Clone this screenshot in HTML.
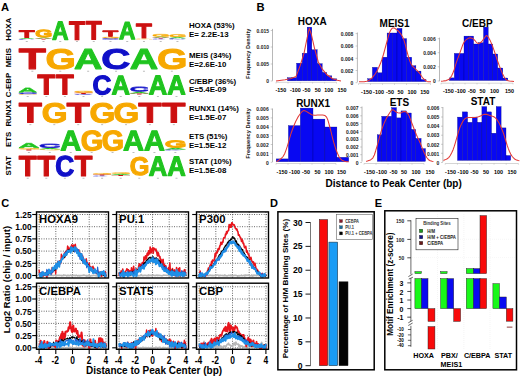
<!DOCTYPE html>
<html><head><meta charset="utf-8"><style>
html,body{margin:0;padding:0;background:#fff;width:520px;height:378px;overflow:hidden}
svg{display:block;font-family:"Liberation Sans", sans-serif}
</style></head><body>
<svg width="520" height="378" viewBox="0 0 520 378">
<defs><path id="gA" d="M1133 0 1008 360H471L346 0H51L565 1409H913L1425 0ZM739 1192 733 1170Q723 1134 709.0 1088.0Q695 1042 537 582H942L803 987L760 1123Z" vector-effect="non-scaling-stroke"/><path id="gC" d="M795 212Q1062 212 1166 480L1423 383Q1340 179 1179.5 79.5Q1019 -20 795 -20Q455 -20 269.5 172.5Q84 365 84 711Q84 1058 263.0 1244.0Q442 1430 782 1430Q1030 1430 1186.0 1330.5Q1342 1231 1405 1038L1145 967Q1112 1073 1015.5 1135.5Q919 1198 788 1198Q588 1198 484.5 1074.0Q381 950 381 711Q381 468 487.5 340.0Q594 212 795 212Z" vector-effect="non-scaling-stroke"/><path id="gG" d="M806 211Q921 211 1029.0 244.5Q1137 278 1196 330V525H852V743H1466V225Q1354 110 1174.5 45.0Q995 -20 798 -20Q454 -20 269.0 170.5Q84 361 84 711Q84 1059 270.0 1244.5Q456 1430 805 1430Q1301 1430 1436 1063L1164 981Q1120 1088 1026.0 1143.0Q932 1198 805 1198Q597 1198 489.0 1072.0Q381 946 381 711Q381 472 492.5 341.5Q604 211 806 211Z" vector-effect="non-scaling-stroke"/><path id="gT" d="M773 1181V0H478V1181H23V1409H1229V1181Z" vector-effect="non-scaling-stroke"/></defs>
<rect width="520" height="378" fill="#fff"/>
<text x="0.9" y="10.6" font-size="11.2" text-anchor="start" font-weight="bold" fill="#000" >A</text>
<text transform="translate(11.3 29.3) rotate(-90)" font-size="7.9" text-anchor="middle" font-weight="bold" fill="#000" >HOXA</text>
<text transform="translate(11.3 57.6) rotate(-90)" font-size="7.9" text-anchor="middle" font-weight="bold" fill="#000" >MEIS</text>
<text transform="translate(11.3 85) rotate(-90)" font-size="7.9" text-anchor="middle" font-weight="bold" fill="#000" >C-EBP</text>
<text transform="translate(11.3 113.2) rotate(-90)" font-size="7.9" text-anchor="middle" font-weight="bold" fill="#000" >RUNX1</text>
<text transform="translate(11.3 139.4) rotate(-90)" font-size="7.9" text-anchor="middle" font-weight="bold" fill="#000" >ETS</text>
<text transform="translate(11.3 165.7) rotate(-90)" font-size="7.9" text-anchor="middle" font-weight="bold" fill="#000" >STAT</text>
<use href="#gT" fill="#cc1010" stroke="#cc1010" stroke-width="1.1" stroke-linejoin="round" transform="matrix(0.01272 0 0 -0.00490 18.81 37.45)"/>
<use href="#gA" fill="#1fc41f" transform="matrix(0.01197 0 0 -0.00071 17.94 39)"/>
<use href="#gC" fill="#1010c8" transform="matrix(0.01228 0 0 -0.00041 17.52 39.59)"/>
<use href="#gG" fill="#f7a800" stroke="#f7a800" stroke-width="1.1" stroke-linejoin="round" transform="matrix(0.01110 0 0 -0.00510 34.91 37.15)"/>
<use href="#gA" fill="#1fc41f" transform="matrix(0.01197 0 0 -0.00071 34.68 38.8)"/>
<use href="#gT" fill="#cc1010" transform="matrix(0.01363 0 0 -0.00050 34.98 39.5)"/>
<use href="#gA" fill="#1fc41f" stroke="#1fc41f" stroke-width="1.1" stroke-linejoin="round" transform="matrix(0.01116 0 0 -0.01278 52.01 39.65)"/>
<use href="#gT" fill="#cc1010" stroke="#cc1010" stroke-width="1.1" stroke-linejoin="round" transform="matrix(0.01272 0 0 -0.01278 69.03 39.65)"/>
<use href="#gT" fill="#cc1010" stroke="#cc1010" stroke-width="1.1" stroke-linejoin="round" transform="matrix(0.01272 0 0 -0.01285 85.77 39.45)"/>
<use href="#gT" fill="#cc1010" stroke="#cc1010" stroke-width="0.99" stroke-linejoin="round" transform="matrix(0.01281 0 0 -0.00398 102.45 36.41)"/>
<use href="#gG" fill="#f7a800" stroke="#f7a800" stroke-width="0.21" stroke-linejoin="round" transform="matrix(0.01174 0 0 -0.00082 101.37 38.18)"/>
<use href="#gC" fill="#1010c8" stroke="#1010c8" stroke-width="0.18" stroke-linejoin="round" transform="matrix(0.01214 0 0 -0.00070 101.32 39.4)"/>
<use href="#gA" fill="#1fc41f" stroke="#1fc41f" stroke-width="1.1" stroke-linejoin="round" transform="matrix(0.01116 0 0 -0.01221 118.97 39.25)"/>
<use href="#gT" fill="#cc1010" stroke="#cc1010" stroke-width="1.1" stroke-linejoin="round" transform="matrix(0.01272 0 0 -0.01008 135.99 38.05)"/>
<use href="#gG" fill="#f7a800" transform="matrix(0.01190 0 0 -0.00055 134.73 39.39)"/>
<use href="#gG" fill="#f7a800" stroke="#f7a800" stroke-width="0.42" stroke-linejoin="round" transform="matrix(0.01159 0 0 -0.00164 151.71 36.56)"/>
<use href="#gA" fill="#1fc41f" transform="matrix(0.01197 0 0 -0.00071 151.86 37.8)"/>
<use href="#gT" fill="#cc1010" transform="matrix(0.01363 0 0 -0.00057 152.16 38.6)"/>
<use href="#gC" fill="#1010c8" transform="matrix(0.01228 0 0 -0.00055 151.44 39.39)"/>
<use href="#gG" fill="#f7a800" stroke="#f7a800" stroke-width="0.45" stroke-linejoin="round" transform="matrix(0.01157 0 0 -0.00176 168.46 36.94)"/>
<use href="#gA" fill="#1fc41f" stroke="#1fc41f" stroke-width="0.18" stroke-linejoin="round" transform="matrix(0.01183 0 0 -0.00072 168.7 38.31)"/>
<use href="#gC" fill="#1010c8" transform="matrix(0.01228 0 0 -0.00069 168.18 39.39)"/>
<use href="#gT" fill="#cc1010" stroke="#cc1010" stroke-width="1.1" stroke-linejoin="round" transform="matrix(0.02197 0 0 -0.01419 18.59 68.85)"/>
<use href="#gG" fill="#f7a800" stroke="#f7a800" stroke-width="1.1" stroke-linejoin="round" transform="matrix(0.01918 0 0 -0.01372 45.39 68.78)"/>
<use href="#gA" fill="#1fc41f" stroke="#1fc41f" stroke-width="1.1" stroke-linejoin="round" transform="matrix(0.01929 0 0 -0.01398 73.92 68.85)"/>
<use href="#gC" fill="#1010c8" stroke="#1010c8" stroke-width="1.1" stroke-linejoin="round" transform="matrix(0.01979 0 0 -0.01379 101.14 68.77)"/>
<use href="#gA" fill="#1fc41f" stroke="#1fc41f" stroke-width="1.1" stroke-linejoin="round" transform="matrix(0.01929 0 0 -0.01398 129.72 68.85)"/>
<use href="#gG" fill="#f7a800" stroke="#f7a800" stroke-width="1.1" stroke-linejoin="round" transform="matrix(0.01918 0 0 -0.01372 156.99 68.78)"/>
<use href="#gA" fill="#1fc41f" stroke="#1fc41f" stroke-width="0.75" stroke-linejoin="round" transform="matrix(0.01277 0 0 -0.00302 18.27 92.22)"/>
<use href="#gC" fill="#1010c8" stroke="#1010c8" stroke-width="0.22" stroke-linejoin="round" transform="matrix(0.01350 0 0 -0.00088 17.53 93.97)"/>
<use href="#gG" fill="#f7a800" transform="matrix(0.01324 0 0 -0.00048 17.44 94.79)"/>
<use href="#gT" fill="#cc1010" stroke="#cc1010" stroke-width="1.1" stroke-linejoin="round" transform="matrix(0.01426 0 0 -0.01391 37.37 94.45)"/>
<use href="#gT" fill="#cc1010" stroke="#cc1010" stroke-width="1.1" stroke-linejoin="round" transform="matrix(0.01426 0 0 -0.01391 55.97 94.45)"/>
<use href="#gG" fill="#f7a800" stroke="#f7a800" stroke-width="0.28" stroke-linejoin="round" transform="matrix(0.01304 0 0 -0.00111 73.4 92.64)"/>
<use href="#gT" fill="#cc1010" stroke="#cc1010" stroke-width="0.18" stroke-linejoin="round" transform="matrix(0.01502 0 0 -0.00072 74.09 93.91)"/>
<use href="#gC" fill="#1010c8" transform="matrix(0.01367 0 0 -0.00069 73.2 94.99)"/>
<use href="#gC" fill="#1010c8" stroke="#1010c8" stroke-width="1.1" stroke-linejoin="round" transform="matrix(0.01285 0 0 -0.01317 92.42 94.39)"/>
<use href="#gA" fill="#1fc41f" stroke="#1fc41f" stroke-width="1.1" stroke-linejoin="round" transform="matrix(0.01252 0 0 -0.01320 111.46 94.45)"/>
<use href="#gC" fill="#1010c8" stroke="#1010c8" stroke-width="0.79" stroke-linejoin="round" transform="matrix(0.01307 0 0 -0.00311 129.45 91.34)"/>
<use href="#gA" fill="#1fc41f" stroke="#1fc41f" stroke-width="0.27" stroke-linejoin="round" transform="matrix(0.01312 0 0 -0.00109 129.62 93.46)"/>
<use href="#gT" fill="#cc1010" transform="matrix(0.01517 0 0 -0.00071 129.8 94.6)"/>
<use href="#gA" fill="#1fc41f" stroke="#1fc41f" stroke-width="1.1" stroke-linejoin="round" transform="matrix(0.01252 0 0 -0.01334 148.66 94.45)"/>
<use href="#gA" fill="#1fc41f" stroke="#1fc41f" stroke-width="1.1" stroke-linejoin="round" transform="matrix(0.01252 0 0 -0.01334 167.26 94.45)"/>
<use href="#gT" fill="#cc1010" stroke="#cc1010" stroke-width="1.1" stroke-linejoin="round" transform="matrix(0.01867 0 0 -0.01391 18.67 122.55)"/>
<use href="#gG" fill="#f7a800" stroke="#f7a800" stroke-width="1.1" stroke-linejoin="round" transform="matrix(0.01629 0 0 -0.01352 41.65 122.48)"/>
<use href="#gT" fill="#cc1010" stroke="#cc1010" stroke-width="1.1" stroke-linejoin="round" transform="matrix(0.01867 0 0 -0.01391 66.5 122.55)"/>
<use href="#gG" fill="#f7a800" stroke="#f7a800" stroke-width="1.1" stroke-linejoin="round" transform="matrix(0.01629 0 0 -0.01352 89.47 122.48)"/>
<use href="#gG" fill="#f7a800" stroke="#f7a800" stroke-width="1.1" stroke-linejoin="round" transform="matrix(0.01629 0 0 -0.01352 113.39 122.48)"/>
<use href="#gT" fill="#cc1010" stroke="#cc1010" stroke-width="1.1" stroke-linejoin="round" transform="matrix(0.01867 0 0 -0.01391 138.24 122.55)"/>
<use href="#gT" fill="#cc1010" stroke="#cc1010" stroke-width="1.1" stroke-linejoin="round" transform="matrix(0.01867 0 0 -0.01391 162.16 122.55)"/>
<use href="#gA" fill="#1fc41f" stroke="#1fc41f" stroke-width="0.79" stroke-linejoin="round" transform="matrix(0.01443 0 0 -0.00320 18.21 147.8)"/>
<use href="#gG" fill="#f7a800" stroke="#f7a800" stroke-width="0.18" stroke-linejoin="round" transform="matrix(0.01479 0 0 -0.00070 17.4 149.3)"/>
<use href="#gT" fill="#cc1010" transform="matrix(0.01710 0 0 -0.00071 18.16 150.4)"/>
<use href="#gC" fill="#1010c8" stroke="#1010c8" stroke-width="0.66" stroke-linejoin="round" transform="matrix(0.01491 0 0 -0.00258 38.55 147.62)"/>
<use href="#gA" fill="#1fc41f" stroke="#1fc41f" stroke-width="0.21" stroke-linejoin="round" transform="matrix(0.01486 0 0 -0.00084 38.82 149.3)"/>
<use href="#gG" fill="#f7a800" transform="matrix(0.01492 0 0 -0.00055 38.22 150.19)"/>
<use href="#gA" fill="#1fc41f" stroke="#1fc41f" stroke-width="1.1" stroke-linejoin="round" transform="matrix(0.01421 0 0 -0.01398 60.23 150.45)"/>
<use href="#gG" fill="#f7a800" stroke="#f7a800" stroke-width="1.1" stroke-linejoin="round" transform="matrix(0.01413 0 0 -0.01386 80.69 150.37)"/>
<use href="#gG" fill="#f7a800" stroke="#f7a800" stroke-width="1.1" stroke-linejoin="round" transform="matrix(0.01413 0 0 -0.01386 101.61 150.37)"/>
<use href="#gA" fill="#1fc41f" stroke="#1fc41f" stroke-width="1.1" stroke-linejoin="round" transform="matrix(0.01421 0 0 -0.01398 123 150.45)"/>
<use href="#gA" fill="#1fc41f" stroke="#1fc41f" stroke-width="1.1" stroke-linejoin="round" transform="matrix(0.01421 0 0 -0.01398 143.93 150.45)"/>
<use href="#gG" fill="#f7a800" stroke="#f7a800" stroke-width="1.1" stroke-linejoin="round" transform="matrix(0.01413 0 0 -0.00476 164.39 147.35)"/>
<use href="#gA" fill="#1fc41f" stroke="#1fc41f" stroke-width="0.24" stroke-linejoin="round" transform="matrix(0.01484 0 0 -0.00097 164.39 149.48)"/>
<use href="#gC" fill="#1010c8" transform="matrix(0.01540 0 0 -0.00055 163.73 150.39)"/>
<use href="#gT" fill="#cc1010" stroke="#cc1010" stroke-width="1.1" stroke-linejoin="round" transform="matrix(0.01426 0 0 -0.01427 18.77 176.05)"/>
<use href="#gT" fill="#cc1010" stroke="#cc1010" stroke-width="1.1" stroke-linejoin="round" transform="matrix(0.01426 0 0 -0.01427 37.37 176.05)"/>
<use href="#gC" fill="#1010c8" stroke="#1010c8" stroke-width="1.1" stroke-linejoin="round" transform="matrix(0.01285 0 0 -0.01414 55.22 175.97)"/>
<use href="#gT" fill="#cc1010" stroke="#cc1010" stroke-width="1.1" stroke-linejoin="round" transform="matrix(0.01426 0 0 -0.01427 74.57 176.05)"/>
<use href="#gG" fill="#f7a800" stroke="#f7a800" stroke-width="0.21" stroke-linejoin="round" transform="matrix(0.01309 0 0 -0.00082 91.96 174.48)"/>
<use href="#gT" fill="#cc1010" transform="matrix(0.01517 0 0 -0.00071 92.6 175.6)"/>
<use href="#gC" fill="#1010c8" transform="matrix(0.01367 0 0 -0.00055 91.8 176.39)"/>
<use href="#gG" fill="#f7a800" stroke="#f7a800" stroke-width="0.21" stroke-linejoin="round" transform="matrix(0.01309 0 0 -0.00082 110.56 173.68)"/>
<use href="#gA" fill="#1fc41f" stroke="#1fc41f" stroke-width="0.18" stroke-linejoin="round" transform="matrix(0.01319 0 0 -0.00072 110.97 174.91)"/>
<use href="#gT" fill="#cc1010" transform="matrix(0.01517 0 0 -0.00071 111.2 176)"/>
<use href="#gG" fill="#f7a800" stroke="#f7a800" stroke-width="1.1" stroke-linejoin="round" transform="matrix(0.01245 0 0 -0.01262 129.65 175)"/>
<use href="#gA" fill="#1fc41f" stroke="#1fc41f" stroke-width="1.1" stroke-linejoin="round" transform="matrix(0.01252 0 0 -0.01356 148.66 175.65)"/>
<use href="#gA" fill="#1fc41f" stroke="#1fc41f" stroke-width="1.1" stroke-linejoin="round" transform="matrix(0.01252 0 0 -0.01356 167.26 175.65)"/>
<rect x="25.77" y="41.2" width="2" height="0.8" fill="#777" opacity="0.6"/>
<rect x="42.51" y="41.2" width="2" height="0.8" fill="#777" opacity="0.6"/>
<rect x="59.25" y="41.2" width="2" height="0.8" fill="#777" opacity="0.6"/>
<rect x="75.99" y="41.2" width="2" height="0.8" fill="#777" opacity="0.6"/>
<rect x="92.73" y="41.2" width="2" height="0.8" fill="#777" opacity="0.6"/>
<rect x="109.47" y="41.2" width="2" height="0.8" fill="#777" opacity="0.6"/>
<rect x="126.21" y="41.2" width="2" height="0.8" fill="#777" opacity="0.6"/>
<rect x="142.95" y="41.2" width="2" height="0.8" fill="#777" opacity="0.6"/>
<rect x="159.69" y="41.2" width="2" height="0.8" fill="#777" opacity="0.6"/>
<rect x="176.43" y="41.2" width="2" height="0.8" fill="#777" opacity="0.6"/>
<rect x="31.35" y="70.8" width="2" height="0.8" fill="#777" opacity="0.6"/>
<rect x="59.25" y="70.8" width="2" height="0.8" fill="#777" opacity="0.6"/>
<rect x="87.15" y="70.8" width="2" height="0.8" fill="#777" opacity="0.6"/>
<rect x="115.05" y="70.8" width="2" height="0.8" fill="#777" opacity="0.6"/>
<rect x="142.95" y="70.8" width="2" height="0.8" fill="#777" opacity="0.6"/>
<rect x="170.85" y="70.8" width="2" height="0.8" fill="#777" opacity="0.6"/>
<rect x="26.7" y="96.2" width="2" height="0.8" fill="#777" opacity="0.6"/>
<rect x="45.3" y="96.2" width="2" height="0.8" fill="#777" opacity="0.6"/>
<rect x="63.9" y="96.2" width="2" height="0.8" fill="#777" opacity="0.6"/>
<rect x="82.5" y="96.2" width="2" height="0.8" fill="#777" opacity="0.6"/>
<rect x="101.1" y="96.2" width="2" height="0.8" fill="#777" opacity="0.6"/>
<rect x="119.7" y="96.2" width="2" height="0.8" fill="#777" opacity="0.6"/>
<rect x="138.3" y="96.2" width="2" height="0.8" fill="#777" opacity="0.6"/>
<rect x="156.9" y="96.2" width="2" height="0.8" fill="#777" opacity="0.6"/>
<rect x="175.5" y="96.2" width="2" height="0.8" fill="#777" opacity="0.6"/>
<rect x="29.36" y="124.3" width="2" height="0.8" fill="#777" opacity="0.6"/>
<rect x="53.27" y="124.3" width="2" height="0.8" fill="#777" opacity="0.6"/>
<rect x="77.19" y="124.3" width="2" height="0.8" fill="#777" opacity="0.6"/>
<rect x="101.1" y="124.3" width="2" height="0.8" fill="#777" opacity="0.6"/>
<rect x="125.01" y="124.3" width="2" height="0.8" fill="#777" opacity="0.6"/>
<rect x="148.93" y="124.3" width="2" height="0.8" fill="#777" opacity="0.6"/>
<rect x="172.84" y="124.3" width="2" height="0.8" fill="#777" opacity="0.6"/>
<rect x="27.86" y="152.2" width="2" height="0.8" fill="#777" opacity="0.6"/>
<rect x="48.79" y="152.2" width="2" height="0.8" fill="#777" opacity="0.6"/>
<rect x="69.71" y="152.2" width="2" height="0.8" fill="#777" opacity="0.6"/>
<rect x="90.64" y="152.2" width="2" height="0.8" fill="#777" opacity="0.6"/>
<rect x="111.56" y="152.2" width="2" height="0.8" fill="#777" opacity="0.6"/>
<rect x="132.49" y="152.2" width="2" height="0.8" fill="#777" opacity="0.6"/>
<rect x="153.41" y="152.2" width="2" height="0.8" fill="#777" opacity="0.6"/>
<rect x="174.34" y="152.2" width="2" height="0.8" fill="#777" opacity="0.6"/>
<rect x="26.7" y="177.8" width="2" height="0.8" fill="#777" opacity="0.6"/>
<rect x="45.3" y="177.8" width="2" height="0.8" fill="#777" opacity="0.6"/>
<rect x="63.9" y="177.8" width="2" height="0.8" fill="#777" opacity="0.6"/>
<rect x="82.5" y="177.8" width="2" height="0.8" fill="#777" opacity="0.6"/>
<rect x="101.1" y="177.8" width="2" height="0.8" fill="#777" opacity="0.6"/>
<rect x="119.7" y="177.8" width="2" height="0.8" fill="#777" opacity="0.6"/>
<rect x="138.3" y="177.8" width="2" height="0.8" fill="#777" opacity="0.6"/>
<rect x="156.9" y="177.8" width="2" height="0.8" fill="#777" opacity="0.6"/>
<rect x="175.5" y="177.8" width="2" height="0.8" fill="#777" opacity="0.6"/>
<text x="188.9" y="28" font-size="7.9" text-anchor="start" font-weight="bold" fill="#000" >HOXA (53%)</text>
<text x="188.9" y="37" font-size="7.9" text-anchor="start" font-weight="bold" fill="#000" >E= 2.2E-13</text>
<text x="188.9" y="57.5" font-size="7.9" text-anchor="start" font-weight="bold" fill="#000" >MEIS (34%)</text>
<text x="188.9" y="66.5" font-size="7.9" text-anchor="start" font-weight="bold" fill="#000" >E=2.6E-10</text>
<text x="188.9" y="84" font-size="7.9" text-anchor="start" font-weight="bold" fill="#000" >C/EBP (36%)</text>
<text x="188.9" y="92.4" font-size="7.9" text-anchor="start" font-weight="bold" fill="#000" >E=5.4E-09</text>
<text x="188.9" y="111.3" font-size="7.9" text-anchor="start" font-weight="bold" fill="#000" >RUNX1 (14%)</text>
<text x="188.9" y="120.4" font-size="7.9" text-anchor="start" font-weight="bold" fill="#000" >E=1.5E-07</text>
<text x="188.9" y="139.3" font-size="7.9" text-anchor="start" font-weight="bold" fill="#000" >ETS (51%)</text>
<text x="188.9" y="148.2" font-size="7.9" text-anchor="start" font-weight="bold" fill="#000" >E=1.5E-12</text>
<text x="188.9" y="163.5" font-size="7.9" text-anchor="start" font-weight="bold" fill="#000" >STAT (10%)</text>
<text x="188.9" y="172.8" font-size="7.9" text-anchor="start" font-weight="bold" fill="#000" >E=1.5E-08</text>
<text x="256.4" y="10.9" font-size="11.2" text-anchor="start" font-weight="bold" fill="#000" >B</text>
<text transform="translate(250.3 53.8) rotate(-90)" font-size="6" text-anchor="middle" font-weight="bold" fill="#111" textLength="50.5" lengthAdjust="spacingAndGlyphs">Frequency Density</text>
<text transform="translate(250.3 133.4) rotate(-90)" font-size="6" text-anchor="middle" font-weight="bold" fill="#111" textLength="50.5" lengthAdjust="spacingAndGlyphs">Frequency Density</text>
<text x="312.2" y="25.1" font-size="10" text-anchor="middle" font-weight="bold" fill="#000" >HOXA</text>
<line x1="272.5" y1="28.9" x2="272.5" y2="80.8" stroke="#888" stroke-width="0.6" />
<line x1="270.7" y1="30.5" x2="272.5" y2="30.5" stroke="#999" stroke-width="0.5" />
<text x="269" y="32.7" font-size="5" text-anchor="end" font-weight="bold" fill="#222" >0.015</text>
<line x1="270.7" y1="47" x2="272.5" y2="47" stroke="#999" stroke-width="0.5" />
<text x="269" y="49.2" font-size="5" text-anchor="end" font-weight="bold" fill="#222" >0.010</text>
<line x1="270.7" y1="64" x2="272.5" y2="64" stroke="#999" stroke-width="0.5" />
<text x="269" y="66.2" font-size="5" text-anchor="end" font-weight="bold" fill="#222" >0.005</text>
<line x1="270.7" y1="81" x2="272.5" y2="81" stroke="#999" stroke-width="0.5" />
<text x="269" y="83.2" font-size="5" text-anchor="end" font-weight="bold" fill="#222" >0</text>
<rect x="287.4" y="77.7" width="4.6" height="3.1" fill="#0808f2" stroke="#00007a" stroke-width="0.3"/>
<rect x="292" y="77.7" width="4.6" height="3.1" fill="#0808f2" stroke="#00007a" stroke-width="0.3"/>
<rect x="296.6" y="63.2" width="5.6" height="17.6" fill="#0808f2" stroke="#00007a" stroke-width="0.3"/>
<rect x="302.2" y="53.2" width="5" height="27.6" fill="#0808f2" stroke="#00007a" stroke-width="0.3"/>
<rect x="307.2" y="27.2" width="4.6" height="53.6" fill="#0808f2" stroke="#00007a" stroke-width="0.3"/>
<rect x="311.8" y="49.7" width="5.4" height="31.1" fill="#0808f2" stroke="#00007a" stroke-width="0.3"/>
<rect x="317.2" y="63.7" width="5" height="17.1" fill="#0808f2" stroke="#00007a" stroke-width="0.3"/>
<rect x="322.2" y="72.4" width="4.6" height="8.4" fill="#0808f2" stroke="#00007a" stroke-width="0.3"/>
<rect x="326.8" y="75.8" width="5" height="5" fill="#0808f2" stroke="#00007a" stroke-width="0.3"/>
<rect x="331.8" y="78.8" width="4.8" height="2" fill="#0808f2" stroke="#00007a" stroke-width="0.3"/>
<polyline points="276,80.9 285,79.8 291,78.6 296.1,76.4 300,66 304,53.4 307.2,37.5 309.3,28.3 311.4,34.5 314.4,47.8 318.3,62 322.3,69.2 327,74.8 332.6,78.8 337.4,80.2 341,80.9" fill="none" stroke="#e23a36" stroke-width="1.05" stroke-linejoin="round" />
<line x1="276" y1="82.3" x2="336.5" y2="82.3" stroke="#aaa" stroke-width="0.5" />
<line x1="276" y1="82.3" x2="276" y2="83.5" stroke="#aaa" stroke-width="0.5" />
<line x1="288" y1="82.3" x2="288" y2="83.5" stroke="#aaa" stroke-width="0.5" />
<line x1="300.3" y1="82.3" x2="300.3" y2="83.5" stroke="#aaa" stroke-width="0.5" />
<line x1="312.6" y1="82.3" x2="312.6" y2="83.5" stroke="#aaa" stroke-width="0.5" />
<line x1="324.6" y1="82.3" x2="324.6" y2="83.5" stroke="#aaa" stroke-width="0.5" />
<line x1="336.5" y1="82.3" x2="336.5" y2="83.5" stroke="#aaa" stroke-width="0.5" />
<text x="280.8" y="92.3" font-size="6" text-anchor="middle" font-weight="bold" fill="#000" textLength="10.81" lengthAdjust="spacingAndGlyphs">-150</text>
<text x="295.4" y="92.3" font-size="6" text-anchor="middle" font-weight="bold" fill="#000" textLength="10.81" lengthAdjust="spacingAndGlyphs">-100</text>
<text x="306.5" y="92.3" font-size="6" text-anchor="middle" font-weight="bold" fill="#000" textLength="7.8" lengthAdjust="spacingAndGlyphs">-50</text>
<text x="317.7" y="92.3" font-size="6" text-anchor="middle" font-weight="bold" fill="#000" textLength="6.01" lengthAdjust="spacingAndGlyphs">50</text>
<text x="328.8" y="92.3" font-size="6" text-anchor="middle" font-weight="bold" fill="#000" textLength="9.01" lengthAdjust="spacingAndGlyphs">100</text>
<text x="342" y="92.3" font-size="6" text-anchor="middle" font-weight="bold" fill="#000" textLength="9.01" lengthAdjust="spacingAndGlyphs">150</text>
<text x="394.6" y="26.7" font-size="10" text-anchor="middle" font-weight="bold" fill="#000" >MEIS1</text>
<line x1="357.4" y1="32.5" x2="357.4" y2="82.2" stroke="#888" stroke-width="0.6" />
<line x1="355.6" y1="33.6" x2="357.4" y2="33.6" stroke="#999" stroke-width="0.5" />
<text x="353.3" y="35.8" font-size="5" text-anchor="end" font-weight="bold" fill="#222" >0.008</text>
<line x1="355.6" y1="46" x2="357.4" y2="46" stroke="#999" stroke-width="0.5" />
<text x="353.3" y="48.2" font-size="5" text-anchor="end" font-weight="bold" fill="#222" >0.006</text>
<line x1="355.6" y1="58.3" x2="357.4" y2="58.3" stroke="#999" stroke-width="0.5" />
<text x="353.3" y="60.5" font-size="5" text-anchor="end" font-weight="bold" fill="#222" >0.004</text>
<line x1="355.6" y1="70.5" x2="357.4" y2="70.5" stroke="#999" stroke-width="0.5" />
<text x="353.3" y="72.7" font-size="5" text-anchor="end" font-weight="bold" fill="#222" >0.002</text>
<line x1="355.6" y1="82.7" x2="357.4" y2="82.7" stroke="#999" stroke-width="0.5" />
<text x="353.3" y="84.9" font-size="5" text-anchor="end" font-weight="bold" fill="#222" >0</text>
<rect x="367.7" y="78.7" width="4.7" height="2.9" fill="#0808f2" stroke="#00007a" stroke-width="0.3"/>
<rect x="372.4" y="67.3" width="5.1" height="14.3" fill="#0808f2" stroke="#00007a" stroke-width="0.3"/>
<rect x="377.5" y="72.8" width="4.6" height="8.8" fill="#0808f2" stroke="#00007a" stroke-width="0.3"/>
<rect x="382.1" y="57.2" width="5" height="24.4" fill="#0808f2" stroke="#00007a" stroke-width="0.3"/>
<rect x="387.1" y="33" width="5.1" height="48.6" fill="#0808f2" stroke="#00007a" stroke-width="0.3"/>
<rect x="392.2" y="33" width="4.8" height="48.6" fill="#0808f2" stroke="#00007a" stroke-width="0.3"/>
<rect x="397" y="28.4" width="5" height="53.2" fill="#0808f2" stroke="#00007a" stroke-width="0.3"/>
<rect x="402" y="38.6" width="4.6" height="43" fill="#0808f2" stroke="#00007a" stroke-width="0.3"/>
<rect x="406.6" y="57.2" width="5.1" height="24.4" fill="#0808f2" stroke="#00007a" stroke-width="0.3"/>
<rect x="411.7" y="65.7" width="4.2" height="15.9" fill="#0808f2" stroke="#00007a" stroke-width="0.3"/>
<rect x="415.9" y="71.1" width="5.1" height="10.5" fill="#0808f2" stroke="#00007a" stroke-width="0.3"/>
<rect x="421" y="79.5" width="5" height="2.1" fill="#0808f2" stroke="#00007a" stroke-width="0.3"/>
<polyline points="359,81.8 361.12,81.78 364.1,81.71 366.8,81.3 368.73,80.48 370.38,79.32 372,77.8 373.68,75.96 375.34,73.76 377,71 378.69,67.56 380.39,63.57 382,59.2 383.52,54.26 384.96,48.94 386.3,44 387.5,39.54 388.61,35.45 389.7,32.2 390.8,29.99 391.89,28.61 393,27.9 394.13,27.93 395.27,28.63 396.5,29.6 397.88,30.72 399.33,32.11 400.7,33.8 401.89,35.66 403,37.8 404.1,40.6 405.24,44.49 406.37,49.03 407.5,53.3 408.57,57.08 409.64,60.58 410.8,63.5 412.13,65.58 413.56,67.08 415,68.5 416.46,69.96 417.93,71.34 419.3,72.8 420.47,74.47 421.54,76.21 422.7,77.8 424.04,79.22 425.48,80.49 426.9,81.4 428.43,81.79 429.94,81.81 431,81.8" fill="none" stroke="#e23a36" stroke-width="1.05" stroke-linejoin="round" />
<line x1="358.5" y1="83.6" x2="430.5" y2="83.6" stroke="#aaa" stroke-width="0.5" />
<line x1="358.5" y1="83.6" x2="358.5" y2="84.8" stroke="#aaa" stroke-width="0.5" />
<line x1="370.5" y1="83.6" x2="370.5" y2="84.8" stroke="#aaa" stroke-width="0.5" />
<line x1="382.5" y1="83.6" x2="382.5" y2="84.8" stroke="#aaa" stroke-width="0.5" />
<line x1="394.5" y1="83.6" x2="394.5" y2="84.8" stroke="#aaa" stroke-width="0.5" />
<line x1="406.5" y1="83.6" x2="406.5" y2="84.8" stroke="#aaa" stroke-width="0.5" />
<line x1="418.5" y1="83.6" x2="418.5" y2="84.8" stroke="#aaa" stroke-width="0.5" />
<line x1="430.5" y1="83.6" x2="430.5" y2="84.8" stroke="#aaa" stroke-width="0.5" />
<text x="366.5" y="93.6" font-size="6" text-anchor="middle" font-weight="bold" fill="#000" textLength="10.81" lengthAdjust="spacingAndGlyphs">-150</text>
<text x="378.5" y="93.6" font-size="6" text-anchor="middle" font-weight="bold" fill="#000" textLength="10.81" lengthAdjust="spacingAndGlyphs">-100</text>
<text x="390" y="93.6" font-size="6" text-anchor="middle" font-weight="bold" fill="#000" textLength="7.8" lengthAdjust="spacingAndGlyphs">-50</text>
<text x="400.5" y="93.6" font-size="6" text-anchor="middle" font-weight="bold" fill="#000" textLength="6.01" lengthAdjust="spacingAndGlyphs">50</text>
<text x="412" y="93.6" font-size="6" text-anchor="middle" font-weight="bold" fill="#000" textLength="9.01" lengthAdjust="spacingAndGlyphs">100</text>
<text x="424.8" y="93.6" font-size="6" text-anchor="middle" font-weight="bold" fill="#000" textLength="9.01" lengthAdjust="spacingAndGlyphs">150</text>
<text x="477.4" y="26.6" font-size="10" text-anchor="middle" font-weight="bold" fill="#000" >C/EBP</text>
<line x1="439.5" y1="37.6" x2="439.5" y2="81.2" stroke="#888" stroke-width="0.6" />
<line x1="437.7" y1="38.7" x2="439.5" y2="38.7" stroke="#999" stroke-width="0.5" />
<text x="435.7" y="40.9" font-size="5" text-anchor="end" font-weight="bold" fill="#222" >0.006</text>
<line x1="437.7" y1="52.7" x2="439.5" y2="52.7" stroke="#999" stroke-width="0.5" />
<text x="435.7" y="54.9" font-size="5" text-anchor="end" font-weight="bold" fill="#222" >0.004</text>
<line x1="437.7" y1="66.8" x2="439.5" y2="66.8" stroke="#999" stroke-width="0.5" />
<text x="435.7" y="69" font-size="5" text-anchor="end" font-weight="bold" fill="#222" >0.002</text>
<line x1="437.7" y1="81" x2="439.5" y2="81" stroke="#999" stroke-width="0.5" />
<text x="435.7" y="83.2" font-size="5" text-anchor="end" font-weight="bold" fill="#222" >0</text>
<rect x="449.2" y="77.9" width="5.1" height="2.6" fill="#0808f2" stroke="#00007a" stroke-width="0.3"/>
<rect x="454.3" y="53.4" width="4.9" height="27.1" fill="#0808f2" stroke="#00007a" stroke-width="0.3"/>
<rect x="459.2" y="53.4" width="4.8" height="27.1" fill="#0808f2" stroke="#00007a" stroke-width="0.3"/>
<rect x="464" y="36.1" width="4.8" height="44.4" fill="#0808f2" stroke="#00007a" stroke-width="0.3"/>
<rect x="468.8" y="36.1" width="4.8" height="44.4" fill="#0808f2" stroke="#00007a" stroke-width="0.3"/>
<rect x="473.6" y="44" width="4.8" height="36.5" fill="#0808f2" stroke="#00007a" stroke-width="0.3"/>
<rect x="478.4" y="42.7" width="5.1" height="37.8" fill="#0808f2" stroke="#00007a" stroke-width="0.3"/>
<rect x="483.5" y="27.1" width="4.7" height="53.4" fill="#0808f2" stroke="#00007a" stroke-width="0.3"/>
<rect x="488.2" y="44" width="4.6" height="36.5" fill="#0808f2" stroke="#00007a" stroke-width="0.3"/>
<rect x="492.8" y="54" width="4.9" height="26.5" fill="#0808f2" stroke="#00007a" stroke-width="0.3"/>
<rect x="497.7" y="68" width="5.1" height="12.5" fill="#0808f2" stroke="#00007a" stroke-width="0.3"/>
<rect x="502.8" y="78" width="5" height="2.5" fill="#0808f2" stroke="#00007a" stroke-width="0.3"/>
<polyline points="441,81.3 443.12,81.05 446.1,80.61 448.7,79.6 450.42,77.83 451.77,75.5 453,72.8 454.17,69.65 455.23,66.13 456.3,62.7 457.39,59.61 458.5,56.6 459.7,53.4 461.04,49.58 462.48,45.56 464,42.3 465.64,40.2 467.36,38.87 469,38.1 470.49,37.87 471.9,38.19 473.3,38.9 474.74,40.27 476.16,42.02 477.5,43.2 478.69,43.41 479.8,43.04 480.9,42.3 482.07,41.08 483.23,39.5 484.3,38.1 485.17,36.86 485.93,35.81 486.8,35.6 487.87,36.58 489.03,38.4 490.2,40.6 491.33,43.11 492.47,46.01 493.6,49.1 494.73,52.41 495.87,55.9 497,59.3 498.13,62.53 499.27,65.66 500.4,68.6 501.53,71.38 502.67,73.97 503.8,76.2 504.81,78 505.81,79.44 507.2,80.5 509.47,81.09 512.11,81.29 514,81.4" fill="none" stroke="#e23a36" stroke-width="1.05" stroke-linejoin="round" />
<line x1="441" y1="83.2" x2="513" y2="83.2" stroke="#aaa" stroke-width="0.5" />
<line x1="441" y1="83.2" x2="441" y2="84.4" stroke="#aaa" stroke-width="0.5" />
<line x1="453" y1="83.2" x2="453" y2="84.4" stroke="#aaa" stroke-width="0.5" />
<line x1="465" y1="83.2" x2="465" y2="84.4" stroke="#aaa" stroke-width="0.5" />
<line x1="477" y1="83.2" x2="477" y2="84.4" stroke="#aaa" stroke-width="0.5" />
<line x1="489" y1="83.2" x2="489" y2="84.4" stroke="#aaa" stroke-width="0.5" />
<line x1="501" y1="83.2" x2="501" y2="84.4" stroke="#aaa" stroke-width="0.5" />
<line x1="513" y1="83.2" x2="513" y2="84.4" stroke="#aaa" stroke-width="0.5" />
<text x="448.3" y="93.2" font-size="6" text-anchor="middle" font-weight="bold" fill="#000" textLength="10.81" lengthAdjust="spacingAndGlyphs">-150</text>
<text x="460.3" y="93.2" font-size="6" text-anchor="middle" font-weight="bold" fill="#000" textLength="10.81" lengthAdjust="spacingAndGlyphs">-100</text>
<text x="471.8" y="93.2" font-size="6" text-anchor="middle" font-weight="bold" fill="#000" textLength="7.8" lengthAdjust="spacingAndGlyphs">-50</text>
<text x="482.5" y="93.2" font-size="6" text-anchor="middle" font-weight="bold" fill="#000" textLength="6.01" lengthAdjust="spacingAndGlyphs">50</text>
<text x="494.5" y="93.2" font-size="6" text-anchor="middle" font-weight="bold" fill="#000" textLength="9.01" lengthAdjust="spacingAndGlyphs">100</text>
<text x="509.5" y="93.2" font-size="6" text-anchor="middle" font-weight="bold" fill="#000" textLength="9.01" lengthAdjust="spacingAndGlyphs">150</text>
<text x="313.1" y="106.9" font-size="10" text-anchor="middle" font-weight="bold" fill="#000" >RUNX1</text>
<line x1="272.5" y1="108.5" x2="272.5" y2="162" stroke="#888" stroke-width="0.6" />
<line x1="270.7" y1="109.1" x2="272.5" y2="109.1" stroke="#999" stroke-width="0.5" />
<text x="268.7" y="111.3" font-size="5" text-anchor="end" font-weight="bold" fill="#222" >0.006</text>
<line x1="270.7" y1="117.9" x2="272.5" y2="117.9" stroke="#999" stroke-width="0.5" />
<text x="268.7" y="120.1" font-size="5" text-anchor="end" font-weight="bold" fill="#222" >0.005</text>
<line x1="270.7" y1="126.8" x2="272.5" y2="126.8" stroke="#999" stroke-width="0.5" />
<text x="268.7" y="129" font-size="5" text-anchor="end" font-weight="bold" fill="#222" >0.004</text>
<line x1="270.7" y1="135.6" x2="272.5" y2="135.6" stroke="#999" stroke-width="0.5" />
<text x="268.7" y="137.8" font-size="5" text-anchor="end" font-weight="bold" fill="#222" >0.003</text>
<line x1="270.7" y1="144.5" x2="272.5" y2="144.5" stroke="#999" stroke-width="0.5" />
<text x="268.7" y="146.7" font-size="5" text-anchor="end" font-weight="bold" fill="#222" >0.002</text>
<line x1="270.7" y1="153.4" x2="272.5" y2="153.4" stroke="#999" stroke-width="0.5" />
<text x="268.7" y="155.6" font-size="5" text-anchor="end" font-weight="bold" fill="#222" >0.001</text>
<line x1="270.7" y1="162.3" x2="272.5" y2="162.3" stroke="#999" stroke-width="0.5" />
<text x="268.7" y="164.5" font-size="5" text-anchor="end" font-weight="bold" fill="#222" >0</text>
<rect x="276.2" y="158.9" width="12.2" height="2.8" fill="#0808f2" stroke="#00007a" stroke-width="0.3"/>
<rect x="288.4" y="125.6" width="11.9" height="36.1" fill="#0808f2" stroke="#00007a" stroke-width="0.3"/>
<rect x="300.3" y="108.1" width="12.7" height="53.6" fill="#0808f2" stroke="#00007a" stroke-width="0.3"/>
<rect x="313" y="119.1" width="11.9" height="42.6" fill="#0808f2" stroke="#00007a" stroke-width="0.3"/>
<rect x="324.9" y="127" width="12" height="34.7" fill="#0808f2" stroke="#00007a" stroke-width="0.3"/>
<rect x="336.9" y="157.3" width="11.8" height="4.4" fill="#0808f2" stroke="#00007a" stroke-width="0.3"/>
<polyline points="276.6,161.7 278.37,160.53 280.87,158.77 283.1,156.5 284.64,153.7 285.92,150.37 287.2,146.6 288.54,142.2 289.87,137.36 291.3,132.7 292.9,128.27 294.6,124.02 296.2,120.4 297.66,117.65 299.02,115.54 300.3,113.8 301.43,112.3 302.47,111.19 303.6,110.6 304.88,110.73 306.24,111.39 307.7,112.2 309.27,113.18 310.94,114.3 312.6,115.1 314.23,115.31 315.86,115.21 317.5,115.1 319.19,115.03 320.9,114.95 322.5,115.1 323.97,115.33 325.33,115.77 326.6,117.1 327.73,119.7 328.76,123.17 329.8,127 330.89,131.22 332,135.8 333.1,140.1 334.17,143.91 335.24,147.44 336.4,150.7 337.68,153.82 339.04,156.68 340.5,158.9 342.13,160.24 343.86,160.94 345.4,161.4 346.74,161.67 347.9,161.7 348.7,161.7" fill="none" stroke="#e23a36" stroke-width="1.05" stroke-linejoin="round" />
<line x1="276" y1="163.5" x2="336" y2="163.5" stroke="#aaa" stroke-width="0.5" />
<line x1="276" y1="163.5" x2="276" y2="164.7" stroke="#aaa" stroke-width="0.5" />
<line x1="288" y1="163.5" x2="288" y2="164.7" stroke="#aaa" stroke-width="0.5" />
<line x1="300" y1="163.5" x2="300" y2="164.7" stroke="#aaa" stroke-width="0.5" />
<line x1="312" y1="163.5" x2="312" y2="164.7" stroke="#aaa" stroke-width="0.5" />
<line x1="324" y1="163.5" x2="324" y2="164.7" stroke="#aaa" stroke-width="0.5" />
<line x1="336" y1="163.5" x2="336" y2="164.7" stroke="#aaa" stroke-width="0.5" />
<text x="282" y="173.5" font-size="6" text-anchor="middle" font-weight="bold" fill="#000" textLength="10.81" lengthAdjust="spacingAndGlyphs">-150</text>
<text x="294.5" y="173.5" font-size="6" text-anchor="middle" font-weight="bold" fill="#000" textLength="10.81" lengthAdjust="spacingAndGlyphs">-100</text>
<text x="306" y="173.5" font-size="6" text-anchor="middle" font-weight="bold" fill="#000" textLength="7.8" lengthAdjust="spacingAndGlyphs">-50</text>
<text x="317.5" y="173.5" font-size="6" text-anchor="middle" font-weight="bold" fill="#000" textLength="6.01" lengthAdjust="spacingAndGlyphs">50</text>
<text x="329" y="173.5" font-size="6" text-anchor="middle" font-weight="bold" fill="#000" textLength="9.01" lengthAdjust="spacingAndGlyphs">100</text>
<text x="341.5" y="173.5" font-size="6" text-anchor="middle" font-weight="bold" fill="#000" textLength="9.01" lengthAdjust="spacingAndGlyphs">150</text>
<text x="399.4" y="106.2" font-size="10" text-anchor="middle" font-weight="bold" fill="#000" >ETS</text>
<line x1="362" y1="106.5" x2="362" y2="161.6" stroke="#888" stroke-width="0.6" />
<line x1="360.2" y1="107.6" x2="362" y2="107.6" stroke="#999" stroke-width="0.5" />
<text x="358.5" y="109.8" font-size="5" text-anchor="end" font-weight="bold" fill="#222" >0.007</text>
<line x1="360.2" y1="115.8" x2="362" y2="115.8" stroke="#999" stroke-width="0.5" />
<text x="358.5" y="118" font-size="5" text-anchor="end" font-weight="bold" fill="#222" >0.006</text>
<line x1="360.2" y1="123.6" x2="362" y2="123.6" stroke="#999" stroke-width="0.5" />
<text x="358.5" y="125.8" font-size="5" text-anchor="end" font-weight="bold" fill="#222" >0.005</text>
<line x1="360.2" y1="131.4" x2="362" y2="131.4" stroke="#999" stroke-width="0.5" />
<text x="358.5" y="133.6" font-size="5" text-anchor="end" font-weight="bold" fill="#222" >0.004</text>
<line x1="360.2" y1="139.2" x2="362" y2="139.2" stroke="#999" stroke-width="0.5" />
<text x="358.5" y="141.4" font-size="5" text-anchor="end" font-weight="bold" fill="#222" >0.003</text>
<line x1="360.2" y1="147" x2="362" y2="147" stroke="#999" stroke-width="0.5" />
<text x="358.5" y="149.2" font-size="5" text-anchor="end" font-weight="bold" fill="#222" >0.002</text>
<line x1="360.2" y1="154.7" x2="362" y2="154.7" stroke="#999" stroke-width="0.5" />
<text x="358.5" y="156.9" font-size="5" text-anchor="end" font-weight="bold" fill="#222" >0.001</text>
<line x1="360.2" y1="162.5" x2="362" y2="162.5" stroke="#999" stroke-width="0.5" />
<text x="358.5" y="164.7" font-size="5" text-anchor="end" font-weight="bold" fill="#222" >0</text>
<rect x="377.3" y="134.8" width="4.5" height="26.6" fill="#0808f2" stroke="#00007a" stroke-width="0.3"/>
<rect x="381.8" y="116.3" width="4.9" height="45.1" fill="#0808f2" stroke="#00007a" stroke-width="0.3"/>
<rect x="386.7" y="116.3" width="4.9" height="45.1" fill="#0808f2" stroke="#00007a" stroke-width="0.3"/>
<rect x="391.6" y="107.6" width="4.9" height="53.8" fill="#0808f2" stroke="#00007a" stroke-width="0.3"/>
<rect x="396.5" y="117.9" width="4.5" height="43.5" fill="#0808f2" stroke="#00007a" stroke-width="0.3"/>
<rect x="401" y="110.9" width="5.4" height="50.5" fill="#0808f2" stroke="#00007a" stroke-width="0.3"/>
<rect x="406.4" y="113" width="4.9" height="48.4" fill="#0808f2" stroke="#00007a" stroke-width="0.3"/>
<rect x="411.3" y="129.4" width="4.4" height="32" fill="#0808f2" stroke="#00007a" stroke-width="0.3"/>
<rect x="415.7" y="138.4" width="5.4" height="23" fill="#0808f2" stroke="#00007a" stroke-width="0.3"/>
<rect x="421.1" y="148.6" width="4.4" height="12.8" fill="#0808f2" stroke="#00007a" stroke-width="0.3"/>
<polyline points="366.2,161.4 368,160.85 370.54,159.93 372.8,158.1 374.35,154.99 375.63,150.97 376.9,146.6 378.27,141.79 379.64,136.62 381,131.9 382.34,127.91 383.66,124.37 385,121.2 386.39,118.37 387.79,115.9 389.1,113.8 390.23,111.94 391.27,110.46 392.4,109.7 393.71,110.11 395.1,111.25 396.5,112.2 397.9,112.68 399.29,112.97 400.6,113 401.73,112.5 402.77,111.73 403.9,111.4 405.21,111.63 406.6,112.3 408,113.8 409.37,116.52 410.73,120.07 412.1,123.7 413.47,127.24 414.83,130.86 416.2,134.3 417.57,137.39 418.93,140.29 420.3,143.3 421.67,146.66 423.03,150.12 424.4,153.2 425.74,155.79 427.07,158 428.5,159.7 430.26,160.74 432.1,161.28 433.4,161.6" fill="none" stroke="#e23a36" stroke-width="1.05" stroke-linejoin="round" />
<line x1="364" y1="163.5" x2="424" y2="163.5" stroke="#aaa" stroke-width="0.5" />
<line x1="364" y1="163.5" x2="364" y2="164.7" stroke="#aaa" stroke-width="0.5" />
<line x1="376" y1="163.5" x2="376" y2="164.7" stroke="#aaa" stroke-width="0.5" />
<line x1="388" y1="163.5" x2="388" y2="164.7" stroke="#aaa" stroke-width="0.5" />
<line x1="400" y1="163.5" x2="400" y2="164.7" stroke="#aaa" stroke-width="0.5" />
<line x1="412" y1="163.5" x2="412" y2="164.7" stroke="#aaa" stroke-width="0.5" />
<line x1="424" y1="163.5" x2="424" y2="164.7" stroke="#aaa" stroke-width="0.5" />
<text x="369.5" y="173.5" font-size="6" text-anchor="middle" font-weight="bold" fill="#000" textLength="10.81" lengthAdjust="spacingAndGlyphs">-150</text>
<text x="381.5" y="173.5" font-size="6" text-anchor="middle" font-weight="bold" fill="#000" textLength="10.81" lengthAdjust="spacingAndGlyphs">-100</text>
<text x="393.5" y="173.5" font-size="6" text-anchor="middle" font-weight="bold" fill="#000" textLength="7.8" lengthAdjust="spacingAndGlyphs">-50</text>
<text x="404" y="173.5" font-size="6" text-anchor="middle" font-weight="bold" fill="#000" textLength="6.01" lengthAdjust="spacingAndGlyphs">50</text>
<text x="416" y="173.5" font-size="6" text-anchor="middle" font-weight="bold" fill="#000" textLength="9.01" lengthAdjust="spacingAndGlyphs">100</text>
<text x="430" y="173.5" font-size="6" text-anchor="middle" font-weight="bold" fill="#000" textLength="9.01" lengthAdjust="spacingAndGlyphs">150</text>
<text x="483" y="104.6" font-size="10" text-anchor="middle" font-weight="bold" fill="#000" >STAT</text>
<line x1="442.9" y1="107" x2="442.9" y2="162" stroke="#888" stroke-width="0.6" />
<line x1="441.1" y1="107.6" x2="442.9" y2="107.6" stroke="#999" stroke-width="0.5" />
<text x="439.4" y="109.8" font-size="5" text-anchor="end" font-weight="bold" fill="#222" >0.006</text>
<line x1="441.1" y1="117" x2="442.9" y2="117" stroke="#999" stroke-width="0.5" />
<text x="439.4" y="119.2" font-size="5" text-anchor="end" font-weight="bold" fill="#222" >0.005</text>
<line x1="441.1" y1="126.2" x2="442.9" y2="126.2" stroke="#999" stroke-width="0.5" />
<text x="439.4" y="128.4" font-size="5" text-anchor="end" font-weight="bold" fill="#222" >0.004</text>
<line x1="441.1" y1="135.2" x2="442.9" y2="135.2" stroke="#999" stroke-width="0.5" />
<text x="439.4" y="137.4" font-size="5" text-anchor="end" font-weight="bold" fill="#222" >0.003</text>
<line x1="441.1" y1="144.3" x2="442.9" y2="144.3" stroke="#999" stroke-width="0.5" />
<text x="439.4" y="146.5" font-size="5" text-anchor="end" font-weight="bold" fill="#222" >0.002</text>
<line x1="441.1" y1="153.3" x2="442.9" y2="153.3" stroke="#999" stroke-width="0.5" />
<text x="439.4" y="155.5" font-size="5" text-anchor="end" font-weight="bold" fill="#222" >0.001</text>
<line x1="441.1" y1="162.5" x2="442.9" y2="162.5" stroke="#999" stroke-width="0.5" />
<text x="439.4" y="164.7" font-size="5" text-anchor="end" font-weight="bold" fill="#222" >0</text>
<rect x="457.5" y="117.1" width="4.8" height="43.3" fill="#0808f2" stroke="#00007a" stroke-width="0.3"/>
<rect x="462.3" y="111.9" width="5.3" height="48.5" fill="#0808f2" stroke="#00007a" stroke-width="0.3"/>
<rect x="467.6" y="122.3" width="4.7" height="38.1" fill="#0808f2" stroke="#00007a" stroke-width="0.3"/>
<rect x="472.3" y="117.1" width="4.9" height="43.3" fill="#0808f2" stroke="#00007a" stroke-width="0.3"/>
<rect x="477.2" y="122.3" width="4.7" height="38.1" fill="#0808f2" stroke="#00007a" stroke-width="0.3"/>
<rect x="481.9" y="106.6" width="4.9" height="53.8" fill="#0808f2" stroke="#00007a" stroke-width="0.3"/>
<rect x="486.8" y="111.9" width="4.7" height="48.5" fill="#0808f2" stroke="#00007a" stroke-width="0.3"/>
<rect x="491.5" y="133.2" width="4.7" height="27.2" fill="#0808f2" stroke="#00007a" stroke-width="0.3"/>
<rect x="496.2" y="106.6" width="4.9" height="53.8" fill="#0808f2" stroke="#00007a" stroke-width="0.3"/>
<rect x="501.1" y="127.9" width="4.9" height="32.5" fill="#0808f2" stroke="#00007a" stroke-width="0.3"/>
<rect x="506" y="155.5" width="4.7" height="4.9" fill="#0808f2" stroke="#00007a" stroke-width="0.3"/>
<polyline points="443.5,160.4 444.88,159.86 446.83,159.01 448.7,157.6 450.26,155.47 451.73,152.77 453.1,149.7 454.33,146.19 455.47,142.3 456.6,138.4 457.74,134.47 458.87,130.54 460.1,127 461.47,123.91 462.93,121.21 464.4,119.2 465.83,118.12 467.27,117.71 468.8,117.5 470.47,117.41 472.23,117.5 474,117.5 475.76,117.32 477.54,117.04 479.3,116.6 481.04,115.81 482.77,114.87 484.5,114.3 486.23,114.38 487.96,114.83 489.7,115.4 491.5,115.88 493.3,116.47 495,117.5 496.5,119.08 497.9,121.1 499.3,123.6 500.79,126.71 502.3,130.3 503.7,134 504.93,137.83 506.07,141.76 507.2,145.4 508.34,148.63 509.47,151.56 510.7,154.1 512.07,156.23 513.53,157.98 515,159.3 516.62,160.1 518.26,160.48 519.4,160.7" fill="none" stroke="#e23a36" stroke-width="1.05" stroke-linejoin="round" />
<line x1="445.2" y1="163.5" x2="518.4" y2="163.5" stroke="#aaa" stroke-width="0.5" />
<line x1="445.2" y1="163.5" x2="445.2" y2="164.7" stroke="#aaa" stroke-width="0.5" />
<line x1="457.4" y1="163.5" x2="457.4" y2="164.7" stroke="#aaa" stroke-width="0.5" />
<line x1="469.6" y1="163.5" x2="469.6" y2="164.7" stroke="#aaa" stroke-width="0.5" />
<line x1="481.8" y1="163.5" x2="481.8" y2="164.7" stroke="#aaa" stroke-width="0.5" />
<line x1="494" y1="163.5" x2="494" y2="164.7" stroke="#aaa" stroke-width="0.5" />
<line x1="506.2" y1="163.5" x2="506.2" y2="164.7" stroke="#aaa" stroke-width="0.5" />
<line x1="518.4" y1="163.5" x2="518.4" y2="164.7" stroke="#aaa" stroke-width="0.5" />
<text x="450.5" y="173.5" font-size="6" text-anchor="middle" font-weight="bold" fill="#000" textLength="10.81" lengthAdjust="spacingAndGlyphs">-150</text>
<text x="463" y="173.5" font-size="6" text-anchor="middle" font-weight="bold" fill="#000" textLength="10.81" lengthAdjust="spacingAndGlyphs">-100</text>
<text x="474.5" y="173.5" font-size="6" text-anchor="middle" font-weight="bold" fill="#000" textLength="7.8" lengthAdjust="spacingAndGlyphs">-50</text>
<text x="486" y="173.5" font-size="6" text-anchor="middle" font-weight="bold" fill="#000" textLength="6.01" lengthAdjust="spacingAndGlyphs">50</text>
<text x="498.5" y="173.5" font-size="6" text-anchor="middle" font-weight="bold" fill="#000" textLength="9.01" lengthAdjust="spacingAndGlyphs">100</text>
<text x="512" y="173.5" font-size="6" text-anchor="middle" font-weight="bold" fill="#000" textLength="9.01" lengthAdjust="spacingAndGlyphs">150</text>
<text x="393.7" y="187.3" font-size="10" text-anchor="middle" font-weight="bold" fill="#000" >Distance to Peak Center (bp)</text>
<text x="1.3" y="206.7" font-size="11" text-anchor="start" font-weight="bold" fill="#000" >C</text>
<text transform="translate(9.7 279.6) rotate(-90)" font-size="9.4" text-anchor="middle" font-weight="bold" fill="#000" >Log2 Ratio (chip / input)</text>
<clipPath id="c00"><rect x="36.5" y="211.9" width="72" height="66.1"/></clipPath>
<line x1="36.5" y1="275.5" x2="108.5" y2="275.5" stroke="#222" stroke-width="0.75" stroke-dasharray="0.9 1.5"/>
<line x1="36.5" y1="263.3" x2="108.5" y2="263.3" stroke="#222" stroke-width="0.75" stroke-dasharray="0.9 1.5"/>
<line x1="36.5" y1="251.1" x2="108.5" y2="251.1" stroke="#222" stroke-width="0.75" stroke-dasharray="0.9 1.5"/>
<line x1="36.5" y1="238.9" x2="108.5" y2="238.9" stroke="#222" stroke-width="0.75" stroke-dasharray="0.9 1.5"/>
<line x1="36.5" y1="226.7" x2="108.5" y2="226.7" stroke="#222" stroke-width="0.75" stroke-dasharray="0.9 1.5"/>
<line x1="36.5" y1="214.5" x2="108.5" y2="214.5" stroke="#222" stroke-width="0.75" stroke-dasharray="0.9 1.5"/>
<line x1="39.1" y1="211.9" x2="39.1" y2="278" stroke="#222" stroke-width="0.75" stroke-dasharray="0.9 1.5"/>
<line x1="55.8" y1="211.9" x2="55.8" y2="278" stroke="#222" stroke-width="0.75" stroke-dasharray="0.9 1.5"/>
<line x1="72.5" y1="211.9" x2="72.5" y2="278" stroke="#222" stroke-width="0.75" stroke-dasharray="0.9 1.5"/>
<line x1="89.2" y1="211.9" x2="89.2" y2="278" stroke="#222" stroke-width="0.75" stroke-dasharray="0.9 1.5"/>
<line x1="105.9" y1="211.9" x2="105.9" y2="278" stroke="#222" stroke-width="0.75" stroke-dasharray="0.9 1.5"/>
<g clip-path="url(#c00)">
<polyline points="39.1,275.12 39.71,275.08 40.33,275.48 40.94,275.72 41.55,275.82 42.16,275.49 42.78,275.8 43.39,275.92 44,275.44 44.62,275.46 45.23,275.34 45.84,275.77 46.45,275.5 47.07,275.52 47.68,275.94 48.29,275.34 48.91,275.41 49.52,274.8 50.13,275.44 50.74,275.54 51.36,275.14 51.97,275.44 52.58,275.23 53.2,275.61 53.81,275.44 54.42,275.2 55.03,275.3 55.65,275.46 56.26,275.82 56.87,275.37 57.49,275.48 58.1,275.29 58.71,275.44 59.32,275.18 59.94,275.52 60.55,275.44 61.16,275.3 61.78,275.82 62.39,275.62 63,275.65 63.61,274.92 64.23,275.53 64.84,275.31 65.45,275.32 66.07,275.58 66.68,275.95 67.29,275.22 67.9,275.62 68.52,275.29 69.13,275.88 69.74,275.63 70.36,275.13 70.97,275.08 71.58,275.88 72.19,275.89 72.81,275.51 73.42,275.29 74.03,275.45 74.64,275.41 75.26,275.79 75.87,275.33 76.48,275.17 77.1,275.63 77.71,275.92 78.32,275.72 78.93,275.28 79.55,276.01 80.16,275.53 80.77,275.79 81.39,275.54 82,275.57 82.61,275.5 83.22,275.06 83.84,275.38 84.45,275.11 85.06,275.54 85.68,275.64 86.29,275.39 86.9,276.33 87.51,275.51 88.13,275.45 88.74,275.86 89.35,275.36 89.97,275.66 90.58,276.22 91.19,275.56 91.8,275.79 92.42,275.65 93.03,275.54 93.64,275.13 94.26,275.47 94.87,275.51 95.48,275.39 96.09,276.03 96.71,275.14 97.32,275.82 97.93,275.37 98.55,275.83 99.16,275.79 99.77,275.62 100.38,274.94 101,275.3 101.61,275.68 102.22,275.58 102.84,275.84 103.45,275.51 104.06,275.67 104.67,275.29 105.29,275.9 105.9,275.6" fill="none" stroke="#b8b8b8" stroke-width="1.6" stroke-linejoin="round" />
<polyline points="39.1,269.79 39.62,275.62 40.14,273.52 40.65,273.97 41.17,272.58 41.69,276.9 42.21,274.91 42.72,275.51 43.24,276.06 43.76,275.53 44.28,274.79 44.8,274.25 45.31,275.34 45.83,272.62 46.35,274.37 46.87,279.38 47.39,270.63 47.9,273.53 48.42,274 48.94,271.79 49.46,271.6 49.97,271.66 50.49,273.13 51.01,270.75 51.53,273.77 52.05,267.56 52.56,272.43 53.08,269.91 53.6,268.99 54.12,268.1 54.63,268.46 55.15,266.47 55.67,273.9 56.19,266.63 56.71,266.08 57.22,265.93 57.74,261.37 58.26,265.52 58.78,263.01 59.3,266.04 59.81,260.72 60.33,263.62 60.85,262.68 61.37,254.13 61.88,256.53 62.4,257.07 62.92,255.87 63.44,258.2 63.96,256.61 64.47,252.89 64.99,257.11 65.51,251.63 66.03,254.86 66.54,250.49 67.06,252.27 67.58,245.98 68.1,246.87 68.62,249.39 69.13,251.65 69.65,249.07 70.17,247.29 70.69,248.87 71.21,246.13 71.72,244.6 72.24,246.6 72.76,247.35 73.28,245.01 73.79,247.28 74.31,245.22 74.83,247.8 75.35,244.31 75.87,248.46 76.38,250.47 76.9,248.69 77.42,250.7 77.94,251.93 78.46,250.98 78.97,249.94 79.49,256.45 80.01,253.01 80.53,254.02 81.04,254.82 81.56,253.76 82.08,258.79 82.6,255.73 83.12,258.35 83.63,258.52 84.15,260.02 84.67,261.07 85.19,262.28 85.7,261.23 86.22,258.66 86.74,261.5 87.26,262.64 87.78,263.94 88.29,266.68 88.81,265.19 89.33,262.91 89.85,270.16 90.37,266.54 90.88,266.71 91.4,268.66 91.92,268.13 92.44,267.38 92.95,266.17 93.47,268.35 93.99,268.01 94.51,270.96 95.03,270.28 95.54,271.85 96.06,271.87 96.58,273.6 97.1,271.55 97.61,270.22 98.13,273.57 98.65,272.92 99.17,272.33 99.69,273.64 100.2,271.94 100.72,273.39 101.24,276.29 101.76,276.1 102.28,272.7 102.79,272.95 103.31,272.07 103.83,273.8 104.35,273.93 104.86,277.48 105.38,271.65 105.9,276.25" fill="none" stroke="#e8141c" stroke-width="1.4" stroke-linejoin="round" />
<polyline points="39.1,274.28 39.62,273.13 40.14,275.23 40.65,273.31 41.17,274.5 41.69,274.45 42.21,272.29 42.72,273.94 43.24,274.07 43.76,273.24 44.28,272.77 44.8,273.8 45.31,273.1 45.83,274.5 46.35,273.78 46.87,273.71 47.39,274.42 47.9,274.42 48.42,274.34 48.94,272.77 49.46,272.47 49.97,272.36 50.49,271.71 51.01,272.78 51.53,271.23 52.05,270.57 52.56,269.7 53.08,270.85 53.6,269.99 54.12,271.11 54.63,269.15 55.15,270.29 55.67,268.99 56.19,265.97 56.71,268.6 57.22,265.05 57.74,264.87 58.26,264.82 58.78,263.38 59.3,262.61 59.81,261.38 60.33,261.89 60.85,261.49 61.37,260.75 61.88,260.36 62.4,258.68 62.92,258.64 63.44,256.07 63.96,258.2 64.47,256.71 64.99,255.86 65.51,256.29 66.03,251.73 66.54,255.31 67.06,252.64 67.58,252.33 68.1,249.69 68.62,252.78 69.13,249.39 69.65,250.79 70.17,249.92 70.69,250.18 71.21,248.72 71.72,250.33 72.24,249.23 72.76,248.81 73.28,247.42 73.79,251.69 74.31,248.04 74.83,248.85 75.35,250.55 75.87,250.14 76.38,251.3 76.9,249.7 77.42,251.61 77.94,252.58 78.46,253.18 78.97,253.78 79.49,254.42 80.01,255.79 80.53,253.63 81.04,258.24 81.56,260.64 82.08,257.99 82.6,258.77 83.12,259.03 83.63,260.36 84.15,261.06 84.67,261.34 85.19,261.46 85.7,263.56 86.22,264.2 86.74,262.62 87.26,264.67 87.78,266.79 88.29,264.18 88.81,266.28 89.33,268.18 89.85,269.29 90.37,268.37 90.88,269.96 91.4,270.63 91.92,271.29 92.44,270.92 92.95,269.72 93.47,271.58 93.99,272.89 94.51,271.12 95.03,271.99 95.54,271.48 96.06,271.37 96.58,272.92 97.1,273.09 97.61,273.16 98.13,274.39 98.65,272.77 99.17,272.21 99.69,273.5 100.2,274.01 100.72,274.12 101.24,274.71 101.76,274.81 102.28,274.48 102.79,274.97 103.31,274.63 103.83,275.78 104.35,273.94 104.86,274.27 105.38,275.47 105.9,276.62" fill="none" stroke="#000000" stroke-width="1" stroke-linejoin="round" />
<polyline points="39.1,274.3 39.62,273.55 40.14,275.1 40.65,273.68 41.17,272.66 41.69,273.5 42.21,271.48 42.72,275.6 43.24,273.91 43.76,275.16 44.28,275.21 44.8,274.09 45.31,273.29 45.83,272.84 46.35,272.56 46.87,269.46 47.39,271.65 47.9,275.67 48.42,272.4 48.94,273.6 49.46,273.19 49.97,269.82 50.49,272.16 51.01,274.81 51.53,270.62 52.05,271.3 52.56,272.44 53.08,271.6 53.6,270.67 54.12,269.18 54.63,269.39 55.15,268.03 55.67,264.47 56.19,268.41 56.71,267.83 57.22,266.25 57.74,263.31 58.26,265.73 58.78,261.38 59.3,265.36 59.81,264.16 60.33,261.76 60.85,262.39 61.37,261.21 61.88,258.62 62.4,257.39 62.92,257.68 63.44,257.59 63.96,254.08 64.47,254.96 64.99,255.33 65.51,252.17 66.03,255.13 66.54,252.68 67.06,251.24 67.58,251.83 68.1,252.29 68.62,250.25 69.13,251.36 69.65,251.09 70.17,251.52 70.69,247.3 71.21,250.28 71.72,247.25 72.24,248.51 72.76,249.6 73.28,248.08 73.79,248.88 74.31,249.3 74.83,252.12 75.35,249.95 75.87,248.91 76.38,250.01 76.9,249.61 77.42,249.27 77.94,251.67 78.46,249.59 78.97,256.17 79.49,254.66 80.01,259.25 80.53,254.24 81.04,256.21 81.56,254.23 82.08,258.5 82.6,262.09 83.12,257.21 83.63,262.45 84.15,263.08 84.67,261.96 85.19,261.33 85.7,263.99 86.22,263.51 86.74,267.73 87.26,262.23 87.78,265.94 88.29,266.24 88.81,266.04 89.33,267.32 89.85,267.81 90.37,270.24 90.88,269.34 91.4,268.85 91.92,268.25 92.44,270.63 92.95,270.65 93.47,270.58 93.99,270.5 94.51,271.42 95.03,272.48 95.54,273.18 96.06,270.62 96.58,272.25 97.1,272.91 97.61,267.18 98.13,271.77 98.65,271.97 99.17,273.29 99.69,275.4 100.2,271.83 100.72,274.02 101.24,273.86 101.76,272.27 102.28,272.35 102.79,273.74 103.31,274.17 103.83,270.66 104.35,273.3 104.86,276.07 105.38,273.06 105.9,274.11" fill="none" stroke="#1f63d6" stroke-width="1.2" stroke-linejoin="round" />
<polyline points="39.1,276.1 39.62,276.03 40.14,273.34 40.65,277.65 41.17,274.46 41.69,277.51 42.21,272.54 42.72,273.8 43.24,272.05 43.76,274.7 44.28,273.3 44.8,274.21 45.31,274.77 45.83,273.36 46.35,275.29 46.87,273.82 47.39,272.13 47.9,272.89 48.42,273.39 48.94,269.37 49.46,272.26 49.97,272.96 50.49,271.6 51.01,272.3 51.53,271.78 52.05,271.39 52.56,267.54 53.08,270.08 53.6,269.44 54.12,268.26 54.63,265.82 55.15,268.6 55.67,268.65 56.19,263.56 56.71,268.74 57.22,266.53 57.74,264.39 58.26,261.37 58.78,265.43 59.3,266.9 59.81,261.67 60.33,262.67 60.85,261.74 61.37,259.76 61.88,259.36 62.4,258.51 62.92,258.82 63.44,255.56 63.96,254.52 64.47,255.96 64.99,255.97 65.51,253.56 66.03,253.29 66.54,254.9 67.06,253.47 67.58,250.72 68.1,251.89 68.62,251.78 69.13,250.59 69.65,250.59 70.17,250.25 70.69,252.83 71.21,247.27 71.72,249.41 72.24,250.93 72.76,248.21 73.28,249.25 73.79,249.8 74.31,248.47 74.83,246.94 75.35,249.74 75.87,248.58 76.38,248.14 76.9,253.25 77.42,253.02 77.94,251.66 78.46,255.87 78.97,254.38 79.49,252.74 80.01,253.78 80.53,255.16 81.04,259.5 81.56,254.01 82.08,257.38 82.6,257.81 83.12,258.96 83.63,262.95 84.15,263.28 84.67,263.69 85.19,259.83 85.7,264.56 86.22,264.39 86.74,265.08 87.26,264.53 87.78,265.26 88.29,266.21 88.81,269.03 89.33,272.34 89.85,268.03 90.37,268.38 90.88,267.45 91.4,269.85 91.92,271.01 92.44,269.91 92.95,273.15 93.47,272.74 93.99,273.01 94.51,271.41 95.03,269.04 95.54,271.23 96.06,270.9 96.58,272.44 97.1,272.57 97.61,273.81 98.13,273.72 98.65,277 99.17,275.33 99.69,275.57 100.2,272.56 100.72,272.91 101.24,272.29 101.76,271.76 102.28,274.55 102.79,272.61 103.31,271.34 103.83,274.26 104.35,272.7 104.86,274.56 105.38,276.71 105.9,274.2" fill="none" stroke="#1e8fe6" stroke-width="1.8" stroke-linejoin="round" />
</g>
<rect x="36.5" y="211.9" width="72" height="66.1" fill="none" stroke="#000" stroke-width="1.4"/>
<line x1="32.2" y1="275.5" x2="36.5" y2="275.5" stroke="#000" stroke-width="1.1" />
<text x="31.6" y="278.8" font-size="9.2" text-anchor="end" font-weight="bold" fill="#000" textLength="16.29" lengthAdjust="spacingAndGlyphs">0.00</text>
<line x1="32.2" y1="263.3" x2="36.5" y2="263.3" stroke="#000" stroke-width="1.1" />
<text x="31.6" y="266.6" font-size="9.2" text-anchor="end" font-weight="bold" fill="#000" textLength="16.29" lengthAdjust="spacingAndGlyphs">0.25</text>
<line x1="32.2" y1="251.1" x2="36.5" y2="251.1" stroke="#000" stroke-width="1.1" />
<text x="31.6" y="254.4" font-size="9.2" text-anchor="end" font-weight="bold" fill="#000" textLength="16.29" lengthAdjust="spacingAndGlyphs">0.50</text>
<line x1="32.2" y1="238.9" x2="36.5" y2="238.9" stroke="#000" stroke-width="1.1" />
<text x="31.6" y="242.2" font-size="9.2" text-anchor="end" font-weight="bold" fill="#000" textLength="16.29" lengthAdjust="spacingAndGlyphs">0.75</text>
<line x1="32.2" y1="226.7" x2="36.5" y2="226.7" stroke="#000" stroke-width="1.1" />
<text x="31.6" y="230" font-size="9.2" text-anchor="end" font-weight="bold" fill="#000" textLength="16.29" lengthAdjust="spacingAndGlyphs">1.00</text>
<line x1="32.2" y1="214.5" x2="36.5" y2="214.5" stroke="#000" stroke-width="1.1" />
<text x="31.6" y="217.8" font-size="9.2" text-anchor="end" font-weight="bold" fill="#000" textLength="16.29" lengthAdjust="spacingAndGlyphs">1.25</text>
<text x="39.1" y="223.2" font-size="11.3" text-anchor="start" font-weight="bold" fill="#000" >HOXA9</text>
<clipPath id="c10"><rect x="116.5" y="211.9" width="72" height="66.1"/></clipPath>
<line x1="116.5" y1="275.5" x2="188.5" y2="275.5" stroke="#222" stroke-width="0.75" stroke-dasharray="0.9 1.5"/>
<line x1="116.5" y1="263.3" x2="188.5" y2="263.3" stroke="#222" stroke-width="0.75" stroke-dasharray="0.9 1.5"/>
<line x1="116.5" y1="251.1" x2="188.5" y2="251.1" stroke="#222" stroke-width="0.75" stroke-dasharray="0.9 1.5"/>
<line x1="116.5" y1="238.9" x2="188.5" y2="238.9" stroke="#222" stroke-width="0.75" stroke-dasharray="0.9 1.5"/>
<line x1="116.5" y1="226.7" x2="188.5" y2="226.7" stroke="#222" stroke-width="0.75" stroke-dasharray="0.9 1.5"/>
<line x1="116.5" y1="214.5" x2="188.5" y2="214.5" stroke="#222" stroke-width="0.75" stroke-dasharray="0.9 1.5"/>
<line x1="119.1" y1="211.9" x2="119.1" y2="278" stroke="#222" stroke-width="0.75" stroke-dasharray="0.9 1.5"/>
<line x1="135.8" y1="211.9" x2="135.8" y2="278" stroke="#222" stroke-width="0.75" stroke-dasharray="0.9 1.5"/>
<line x1="152.5" y1="211.9" x2="152.5" y2="278" stroke="#222" stroke-width="0.75" stroke-dasharray="0.9 1.5"/>
<line x1="169.2" y1="211.9" x2="169.2" y2="278" stroke="#222" stroke-width="0.75" stroke-dasharray="0.9 1.5"/>
<line x1="185.9" y1="211.9" x2="185.9" y2="278" stroke="#222" stroke-width="0.75" stroke-dasharray="0.9 1.5"/>
<g clip-path="url(#c10)">
<polyline points="119.1,275.86 119.71,275.39 120.33,275.21 120.94,275.65 121.55,275.89 122.16,275.52 122.78,275.36 123.39,275.18 124,275.86 124.62,275.88 125.23,275.29 125.84,275.36 126.45,275.05 127.07,275.21 127.68,275.53 128.29,275.58 128.91,274.75 129.52,275.58 130.13,275.73 130.74,275.83 131.36,275.47 131.97,275.46 132.58,275.6 133.2,275.52 133.81,275.42 134.42,275.3 135.03,275.18 135.65,275.44 136.26,276.02 136.87,275.29 137.49,275.92 138.1,275.55 138.71,275.93 139.32,275.5 139.94,275.73 140.55,275.44 141.16,274.53 141.78,275.51 142.39,275.25 143,275.89 143.61,275.58 144.23,275.31 144.84,275.53 145.45,275.39 146.07,275.47 146.68,275.79 147.29,275.33 147.9,275.74 148.52,274.95 149.13,275.65 149.74,275.3 150.36,275.5 150.97,275.22 151.58,275.68 152.19,275.21 152.81,275.54 153.42,275.13 154.03,275.32 154.64,275.46 155.26,275.73 155.87,275.28 156.48,275.36 157.1,275.02 157.71,275.61 158.32,275.34 158.93,275.35 159.55,275.42 160.16,275.44 160.77,275.45 161.39,275.68 162,275.8 162.61,275.62 163.22,275.33 163.84,275.06 164.45,275.21 165.06,275.19 165.68,275.27 166.29,275.3 166.9,275.45 167.51,275.27 168.13,274.98 168.74,275.6 169.35,275.7 169.97,274.93 170.58,275.43 171.19,275.22 171.8,275.24 172.42,275.83 173.03,274.79 173.64,274.98 174.26,275.45 174.87,275.28 175.48,275.46 176.09,275.76 176.71,275.53 177.32,275.39 177.93,275.17 178.55,275.29 179.16,275.48 179.77,275.1 180.38,275.72 181,275.27 181.61,275.17 182.22,275.59 182.84,276.02 183.45,275.77 184.06,275.43 184.67,275.35 185.29,275.05 185.9,275.79" fill="none" stroke="#b8b8b8" stroke-width="1.6" stroke-linejoin="round" />
<polyline points="119.1,276.23 119.62,272.54 120.14,273.67 120.65,274.11 121.17,270.93 121.69,272.9 122.21,273.65 122.72,269.08 123.24,274.12 123.76,275.8 124.28,276.04 124.8,274.16 125.31,271.55 125.83,271.11 126.35,270.46 126.87,268.87 127.39,269.12 127.9,271.41 128.42,269.85 128.94,271.27 129.46,273.89 129.97,270.74 130.49,272.34 131.01,272.83 131.53,267.84 132.05,270.42 132.56,273.04 133.08,271.97 133.6,266.42 134.12,271.93 134.63,269.49 135.15,269.46 135.67,269.39 136.19,268.86 136.71,270.85 137.22,270.38 137.74,269.23 138.26,269.16 138.78,266 139.3,263.77 139.81,268.53 140.33,264.65 140.85,267.32 141.37,265.91 141.88,264.1 142.4,262.5 142.92,262.85 143.44,266.8 143.96,257.01 144.47,259.79 144.99,259.7 145.51,255.87 146.03,257.83 146.54,258.81 147.06,253.71 147.58,253.08 148.1,255.11 148.62,250.73 149.13,251.15 149.65,253.96 150.17,247.07 150.69,250 151.21,252.83 151.72,249.1 152.24,249.73 152.76,247.85 153.28,253.12 153.79,247.99 154.31,248.5 154.83,249.42 155.35,250.08 155.87,249.05 156.38,250.99 156.9,252.99 157.42,255.88 157.94,252.33 158.46,253.45 158.97,255.84 159.49,257.05 160.01,256.68 160.53,264.8 161.04,259.4 161.56,266.56 162.08,261.35 162.6,260.39 163.12,259.36 163.63,265.43 164.15,264.19 164.67,266.03 165.19,271.52 165.7,265.59 166.22,267.85 166.74,268.22 167.26,270.99 167.78,269.45 168.29,269.61 168.81,267.34 169.33,269.88 169.85,263.08 170.37,272.05 170.88,271.98 171.4,271.73 171.92,273.61 172.44,268.61 172.95,270.69 173.47,275.09 173.99,272.13 174.51,269.91 175.03,275.71 175.54,272.29 176.06,273.2 176.58,267.53 177.1,271.84 177.61,273.71 178.13,274.08 178.65,268.65 179.17,273.91 179.69,267.81 180.2,276.38 180.72,273.34 181.24,273.46 181.76,274.5 182.28,273.41 182.79,271.4 183.31,274.42 183.83,276.14 184.35,269.95 184.86,269.68 185.38,274.49 185.9,272.27" fill="none" stroke="#e8141c" stroke-width="1.6" stroke-linejoin="round" />
<polyline points="119.1,274.11 119.62,272.7 120.14,274.71 120.65,275.59 121.17,273.77 121.69,273.43 122.21,273.64 122.72,273.51 123.24,274.05 123.76,274.45 124.28,274.58 124.8,274.09 125.31,274.21 125.83,273.04 126.35,273.28 126.87,274.91 127.39,273.15 127.9,273.76 128.42,272.7 128.94,272.31 129.46,273.08 129.97,275.08 130.49,272.85 131.01,274.72 131.53,271.85 132.05,273.7 132.56,273.15 133.08,271.22 133.6,274.22 134.12,272.44 134.63,273.21 135.15,272.48 135.67,272.47 136.19,270.87 136.71,271.43 137.22,270.52 137.74,269.89 138.26,271.58 138.78,268.4 139.3,269.41 139.81,270.18 140.33,268.79 140.85,266.89 141.37,266.23 141.88,267.15 142.4,265.86 142.92,265.13 143.44,263.81 143.96,264.23 144.47,262.61 144.99,263.66 145.51,262.89 146.03,261.06 146.54,260.42 147.06,260.55 147.58,259.45 148.1,259.31 148.62,258.36 149.13,257.6 149.65,257.82 150.17,257.24 150.69,258.08 151.21,258.04 151.72,259.52 152.24,256.98 152.76,257.32 153.28,256.94 153.79,259.22 154.31,258.16 154.83,258.48 155.35,259.9 155.87,257.82 156.38,257.95 156.9,260.63 157.42,259.59 157.94,258.97 158.46,262.15 158.97,260.76 159.49,260.82 160.01,261.19 160.53,264.7 161.04,265.06 161.56,264.54 162.08,264.26 162.6,267.08 163.12,267.21 163.63,268.11 164.15,266.67 164.67,268.7 165.19,268.19 165.7,268.6 166.22,268.59 166.74,269.68 167.26,270.15 167.78,269.78 168.29,270.73 168.81,272.61 169.33,272.24 169.85,271.2 170.37,272.13 170.88,272.78 171.4,272.43 171.92,269.84 172.44,273.02 172.95,272.67 173.47,272.81 173.99,273.57 174.51,272.35 175.03,272.73 175.54,273.21 176.06,274.84 176.58,272.54 177.1,273.03 177.61,273.83 178.13,276.21 178.65,273.86 179.17,274.93 179.69,274.06 180.2,274.33 180.72,274.63 181.24,272.98 181.76,273.79 182.28,272.79 182.79,274.78 183.31,274.09 183.83,272.69 184.35,273.63 184.86,274.58 185.38,274.73 185.9,274.46" fill="none" stroke="#000000" stroke-width="1.3" stroke-linejoin="round" />
<polyline points="119.1,272.25 119.62,272.61 120.14,276.04 120.65,276.86 121.17,274.17 121.69,272.9 122.21,274.23 122.72,276.15 123.24,274.73 123.76,271.9 124.28,276.01 124.8,272.44 125.31,273.2 125.83,273.24 126.35,272.8 126.87,274.7 127.39,274.05 127.9,271.21 128.42,274.37 128.94,274.38 129.46,275.76 129.97,274.34 130.49,272.5 131.01,271.67 131.53,272.46 132.05,272.38 132.56,272.33 133.08,272.56 133.6,271.43 134.12,272.94 134.63,270.98 135.15,272.44 135.67,274.43 136.19,273.72 136.71,271.86 137.22,271.95 137.74,272.72 138.26,271.72 138.78,269.97 139.3,269.25 139.81,268.18 140.33,270.22 140.85,267.95 141.37,266.51 141.88,266.99 142.4,264.42 142.92,267.14 143.44,265.91 143.96,265.1 144.47,265.39 144.99,264.33 145.51,263.38 146.03,263.24 146.54,263.4 147.06,262.83 147.58,261.83 148.1,263.5 148.62,260.62 149.13,262.11 149.65,260.57 150.17,261.52 150.69,259.59 151.21,260.11 151.72,259.83 152.24,260.46 152.76,259.23 153.28,257.16 153.79,262.16 154.31,258.99 154.83,259.62 155.35,260.77 155.87,262.36 156.38,258.63 156.9,261.02 157.42,260.29 157.94,262.72 158.46,263.78 158.97,261.64 159.49,262.66 160.01,264.69 160.53,265.12 161.04,264.47 161.56,267.05 162.08,267.65 162.6,267.04 163.12,266.06 163.63,266.78 164.15,268.23 164.67,267.04 165.19,269.63 165.7,270.54 166.22,266.88 166.74,271.32 167.26,270.1 167.78,270.49 168.29,271.41 168.81,271.53 169.33,271.11 169.85,271.54 170.37,273.37 170.88,272.72 171.4,270.91 171.92,272 172.44,273.79 172.95,273.21 173.47,274.81 173.99,275.33 174.51,274.32 175.03,271.35 175.54,274.58 176.06,276.57 176.58,273.95 177.1,274.81 177.61,272.8 178.13,272.12 178.65,274.39 179.17,273.76 179.69,275.22 180.2,272.24 180.72,275.01 181.24,273.94 181.76,270.59 182.28,275.32 182.79,273.76 183.31,274.07 183.83,273.34 184.35,273.34 184.86,271.89 185.38,273.31 185.9,273.16" fill="none" stroke="#1f63d6" stroke-width="1.2" stroke-linejoin="round" />
<polyline points="119.1,274.3 119.62,274.57 120.14,274.59 120.65,275.37 121.17,274.24 121.69,274.53 122.21,272.9 122.72,276.02 123.24,270.7 123.76,279.23 124.28,274.39 124.8,273.14 125.31,274.76 125.83,275.59 126.35,274.51 126.87,273.35 127.39,272.5 127.9,276.66 128.42,274 128.94,275.25 129.46,272.65 129.97,274.95 130.49,273.9 131.01,272.4 131.53,274.44 132.05,273.53 132.56,274.98 133.08,274.12 133.6,276.49 134.12,274.7 134.63,274 135.15,274.07 135.67,269.54 136.19,276.04 136.71,275.68 137.22,271.65 137.74,270.76 138.26,271.12 138.78,269.24 139.3,267.42 139.81,270.91 140.33,271.8 140.85,269.57 141.37,267.04 141.88,267.71 142.4,268.15 142.92,266.86 143.44,266.37 143.96,268.89 144.47,265.06 144.99,266.47 145.51,265.06 146.03,264.96 146.54,263.56 147.06,261.78 147.58,263.06 148.1,262.09 148.62,260.56 149.13,260.9 149.65,262.31 150.17,259.82 150.69,261.45 151.21,261.08 151.72,260.23 152.24,258.2 152.76,261.81 153.28,261.15 153.79,260.43 154.31,262.12 154.83,260.85 155.35,259.37 155.87,264.31 156.38,261.89 156.9,263.41 157.42,259.63 157.94,262.28 158.46,262.74 158.97,264.34 159.49,266.23 160.01,265.08 160.53,265.18 161.04,266.2 161.56,264.06 162.08,266.13 162.6,269.19 163.12,268.91 163.63,268.37 164.15,271.11 164.67,270.03 165.19,271.11 165.7,270.3 166.22,270.76 166.74,272.27 167.26,269.72 167.78,272.85 168.29,271.23 168.81,274.11 169.33,274.22 169.85,273.93 170.37,273.8 170.88,272.12 171.4,275.8 171.92,271.15 172.44,275.62 172.95,271.65 173.47,273.71 173.99,274.85 174.51,272.9 175.03,274.96 175.54,274.3 176.06,274.24 176.58,270.02 177.1,275.92 177.61,271.55 178.13,274.91 178.65,275.59 179.17,275.27 179.69,272.64 180.2,274.86 180.72,275.75 181.24,273.65 181.76,274.17 182.28,272.98 182.79,276.32 183.31,272.35 183.83,272.76 184.35,275.69 184.86,275.12 185.38,273.91 185.9,274.99" fill="none" stroke="#1e8fe6" stroke-width="1.9" stroke-linejoin="round" />
</g>
<rect x="116.5" y="211.9" width="72" height="66.1" fill="none" stroke="#000" stroke-width="1.4"/>
<line x1="112.2" y1="275.5" x2="116.5" y2="275.5" stroke="#000" stroke-width="1.1" />
<line x1="112.2" y1="263.3" x2="116.5" y2="263.3" stroke="#000" stroke-width="1.1" />
<line x1="112.2" y1="251.1" x2="116.5" y2="251.1" stroke="#000" stroke-width="1.1" />
<line x1="112.2" y1="238.9" x2="116.5" y2="238.9" stroke="#000" stroke-width="1.1" />
<line x1="112.2" y1="226.7" x2="116.5" y2="226.7" stroke="#000" stroke-width="1.1" />
<line x1="112.2" y1="214.5" x2="116.5" y2="214.5" stroke="#000" stroke-width="1.1" />
<text x="119.1" y="223.2" font-size="11.3" text-anchor="start" font-weight="bold" fill="#000" >PU.1</text>
<clipPath id="c20"><rect x="196.5" y="211.9" width="72" height="66.1"/></clipPath>
<line x1="196.5" y1="275.5" x2="268.5" y2="275.5" stroke="#222" stroke-width="0.75" stroke-dasharray="0.9 1.5"/>
<line x1="196.5" y1="263.3" x2="268.5" y2="263.3" stroke="#222" stroke-width="0.75" stroke-dasharray="0.9 1.5"/>
<line x1="196.5" y1="251.1" x2="268.5" y2="251.1" stroke="#222" stroke-width="0.75" stroke-dasharray="0.9 1.5"/>
<line x1="196.5" y1="238.9" x2="268.5" y2="238.9" stroke="#222" stroke-width="0.75" stroke-dasharray="0.9 1.5"/>
<line x1="196.5" y1="226.7" x2="268.5" y2="226.7" stroke="#222" stroke-width="0.75" stroke-dasharray="0.9 1.5"/>
<line x1="196.5" y1="214.5" x2="268.5" y2="214.5" stroke="#222" stroke-width="0.75" stroke-dasharray="0.9 1.5"/>
<line x1="199.1" y1="211.9" x2="199.1" y2="278" stroke="#222" stroke-width="0.75" stroke-dasharray="0.9 1.5"/>
<line x1="215.8" y1="211.9" x2="215.8" y2="278" stroke="#222" stroke-width="0.75" stroke-dasharray="0.9 1.5"/>
<line x1="232.5" y1="211.9" x2="232.5" y2="278" stroke="#222" stroke-width="0.75" stroke-dasharray="0.9 1.5"/>
<line x1="249.2" y1="211.9" x2="249.2" y2="278" stroke="#222" stroke-width="0.75" stroke-dasharray="0.9 1.5"/>
<line x1="265.9" y1="211.9" x2="265.9" y2="278" stroke="#222" stroke-width="0.75" stroke-dasharray="0.9 1.5"/>
<g clip-path="url(#c20)">
<polyline points="199.1,275.27 199.71,275.11 200.33,275.72 200.94,275.75 201.55,275.39 202.16,274.99 202.78,275.38 203.39,275.83 204,275.71 204.62,275.51 205.23,275.22 205.84,275.49 206.45,275.6 207.07,275.56 207.68,275.44 208.29,275.7 208.91,275.49 209.52,275.41 210.13,275.02 210.74,275.51 211.36,275.21 211.97,275.79 212.58,275.24 213.2,275.44 213.81,275.65 214.42,275.5 215.03,275.23 215.65,275.58 216.26,275.2 216.87,275.05 217.49,275.02 218.1,275.03 218.71,275.86 219.32,275.39 219.94,275.69 220.55,275.22 221.16,275.47 221.78,275.43 222.39,275.36 223,275.66 223.61,275.46 224.23,275.7 224.84,274.89 225.45,275.62 226.07,275.49 226.68,276 227.29,275.91 227.9,275.73 228.52,275.26 229.13,275.27 229.74,275.41 230.36,275.67 230.97,274.96 231.58,275.78 232.19,275.74 232.81,275.35 233.42,275.78 234.03,275.41 234.64,275.21 235.26,275.51 235.87,275.37 236.48,275.48 237.1,275.68 237.71,276.4 238.32,275.84 238.93,275.49 239.55,275.96 240.16,275.65 240.77,275.43 241.39,275.1 242,275.88 242.61,275.64 243.22,275.42 243.84,275.34 244.45,275.89 245.06,274.95 245.68,275.73 246.29,275.18 246.9,275.55 247.51,275.37 248.13,275.01 248.74,275.28 249.35,275.45 249.97,275.78 250.58,275.68 251.19,275.9 251.8,274.91 252.42,275.94 253.03,276.23 253.64,275.01 254.26,275.12 254.87,275.59 255.48,275.25 256.09,275.73 256.71,275.66 257.32,275.34 257.93,275.38 258.55,275.62 259.16,275.02 259.77,275.28 260.38,275.45 261,275.83 261.61,275.45 262.22,275.58 262.84,275.51 263.45,275.26 264.06,275.66 264.67,275.41 265.29,275.26 265.9,275.39" fill="none" stroke="#b8b8b8" stroke-width="1.6" stroke-linejoin="round" />
<polyline points="199.1,274.85 199.62,275.67 200.14,271.12 200.65,274.85 201.17,275.25 201.69,274.93 202.21,276.15 202.72,276.41 203.24,274.82 203.76,276.07 204.28,274.42 204.8,275.13 205.31,276.44 205.83,275.09 206.35,273.71 206.87,274.34 207.39,271.05 207.9,270.46 208.42,268.01 208.94,269.41 209.46,267.68 209.97,265.73 210.49,264.57 211.01,265.88 211.53,261.66 212.05,263.43 212.56,260.12 213.08,261.04 213.6,260.2 214.12,260.25 214.63,257.81 215.15,253.57 215.67,256.41 216.19,252.6 216.71,251.82 217.22,252.97 217.74,250 218.26,248.59 218.78,249.7 219.3,248.92 219.81,245.75 220.33,245.65 220.85,242.31 221.37,243.39 221.88,244.34 222.4,241.85 222.92,242.22 223.44,238.65 223.96,237.63 224.47,237.98 224.99,237.5 225.51,234.14 226.03,234.7 226.54,231.59 227.06,233.36 227.58,231.41 228.1,230.74 228.62,230.37 229.13,224.6 229.65,225.02 230.17,227.14 230.69,224.57 231.21,227.28 231.72,222.92 232.24,222.89 232.76,224.72 233.28,224.97 233.79,224.65 234.31,225 234.83,226.8 235.35,228.26 235.87,228.42 236.38,229.59 236.9,229.03 237.42,230.94 237.94,231.79 238.46,235.28 238.97,234.7 239.49,235.79 240.01,237.02 240.53,237.59 241.04,238.91 241.56,241.56 242.08,239.49 242.6,240.6 243.12,243.52 243.63,243.13 244.15,246.21 244.67,247.7 245.19,247.42 245.7,246.24 246.22,249.42 246.74,252.31 247.26,251.09 247.78,253.19 248.29,254.42 248.81,254.08 249.33,257.8 249.85,258.89 250.37,259.48 250.88,257.23 251.4,259.5 251.92,261.4 252.44,262.49 252.95,261.75 253.47,261.96 253.99,265.45 254.51,265.13 255.03,263.38 255.54,266.56 256.06,268.67 256.58,268.71 257.1,269.89 257.61,270.04 258.13,271.28 258.65,273.19 259.17,273.5 259.69,273.62 260.2,275.68 260.72,275.3 261.24,276.61 261.76,273.85 262.28,273.44 262.79,276.55 263.31,274.35 263.83,275.22 264.35,275.32 264.86,275.76 265.38,275.09 265.9,274.15" fill="none" stroke="#e8141c" stroke-width="1.6" stroke-linejoin="round" />
<polyline points="199.1,274.23 199.62,276.15 200.14,275.31 200.65,275.65 201.17,276.01 201.69,275.84 202.21,275.8 202.72,275.56 203.24,275.27 203.76,274.91 204.28,275.35 204.8,274.4 205.31,274.27 205.83,273.93 206.35,273.54 206.87,273.38 207.39,273.12 207.9,271.61 208.42,271.01 208.94,270.07 209.46,269.39 209.97,269.64 210.49,268.63 211.01,268.17 211.53,266.23 212.05,266.17 212.56,265.31 213.08,265.18 213.6,264.66 214.12,263.53 214.63,262.5 215.15,261.43 215.67,261.82 216.19,259.99 216.71,259.92 217.22,258.96 217.74,258.08 218.26,257.36 218.78,256.07 219.3,255.05 219.81,254.57 220.33,254.3 220.85,252.95 221.37,252.19 221.88,251.12 222.4,250.66 222.92,250.96 223.44,249.67 223.96,248.67 224.47,247.11 224.99,246.92 225.51,245.53 226.03,245.1 226.54,245.18 227.06,243.69 227.58,242.63 228.1,241.97 228.62,242.33 229.13,240.53 229.65,240.45 230.17,240.71 230.69,239.27 231.21,239.63 231.72,238.9 232.24,237.16 232.76,236.57 233.28,237.55 233.79,238.24 234.31,237.85 234.83,239.29 235.35,240.67 235.87,242.19 236.38,240.95 236.9,243.51 237.42,244.61 237.94,244.09 238.46,244.45 238.97,245.77 239.49,245.45 240.01,246.9 240.53,247.52 241.04,248.17 241.56,249.57 242.08,249.9 242.6,249.47 243.12,252.15 243.63,252.31 244.15,252.89 244.67,254.29 245.19,254.79 245.7,256.55 246.22,256.58 246.74,257.08 247.26,257.23 247.78,258.1 248.29,259.75 248.81,260.83 249.33,259.87 249.85,261.17 250.37,263.55 250.88,263.38 251.4,264.45 251.92,265.01 252.44,266.38 252.95,266.34 253.47,267.11 253.99,267.65 254.51,267.61 255.03,268.77 255.54,270.29 256.06,271.27 256.58,271.22 257.1,270.89 257.61,271.64 258.13,273.16 258.65,272.73 259.17,273.74 259.69,274.9 260.2,274.8 260.72,275.54 261.24,276.18 261.76,275.78 262.28,275.43 262.79,274.75 263.31,276.13 263.83,275.38 264.35,275.51 264.86,275.55 265.38,276.24 265.9,274.78" fill="none" stroke="#000000" stroke-width="1.3" stroke-linejoin="round" />
<polyline points="199.1,275.94 199.62,277.32 200.14,274.07 200.65,272.32 201.17,275 201.69,274.13 202.21,274.12 202.72,274.6 203.24,274.61 203.76,274.26 204.28,275.74 204.8,276.71 205.31,276.43 205.83,273.4 206.35,273.1 206.87,273.07 207.39,274.91 207.9,272.15 208.42,271.37 208.94,271.76 209.46,270.9 209.97,267.2 210.49,267.43 211.01,267.37 211.53,267.26 212.05,267.4 212.56,266.66 213.08,264.87 213.6,265.84 214.12,264.52 214.63,261.85 215.15,264.29 215.67,263.07 216.19,259.65 216.71,260.45 217.22,259.96 217.74,260.34 218.26,260.25 218.78,256.76 219.3,260.08 219.81,256.13 220.33,256.5 220.85,255.29 221.37,256.68 221.88,252.8 222.4,252.39 222.92,252 223.44,251.13 223.96,252.3 224.47,249.95 224.99,248.9 225.51,248.78 226.03,251.34 226.54,247.39 227.06,246.45 227.58,247.07 228.1,245.13 228.62,243.16 229.13,243.99 229.65,241.89 230.17,243.3 230.69,243.01 231.21,241.54 231.72,242.47 232.24,243.17 232.76,241 233.28,241.52 233.79,241.19 234.31,243.16 234.83,243.2 235.35,242.77 235.87,244.42 236.38,244.76 236.9,244.95 237.42,246.68 237.94,246.31 238.46,248.84 238.97,247.46 239.49,245.84 240.01,248.73 240.53,250.56 241.04,252.59 241.56,252.82 242.08,252.61 242.6,253.85 243.12,253.22 243.63,254.32 244.15,254.37 244.67,256.14 245.19,255.77 245.7,255.87 246.22,259 246.74,258.86 247.26,259.59 247.78,260.25 248.29,259.63 248.81,261.9 249.33,263.18 249.85,264.34 250.37,265.16 250.88,264.38 251.4,263.99 251.92,265.55 252.44,267.12 252.95,267.1 253.47,268.54 253.99,267.13 254.51,268.72 255.03,267.92 255.54,269.38 256.06,270.03 256.58,272.29 257.1,271.35 257.61,272.87 258.13,273.6 258.65,273.37 259.17,272.37 259.69,274.06 260.2,272.92 260.72,274.74 261.24,276.92 261.76,276.03 262.28,273.47 262.79,274.85 263.31,275.38 263.83,275.94 264.35,275.28 264.86,275.01 265.38,275.9 265.9,275.51" fill="none" stroke="#1f63d6" stroke-width="1.2" stroke-linejoin="round" />
<polyline points="199.1,277.1 199.62,273.94 200.14,275.12 200.65,276.06 201.17,274.54 201.69,276.5 202.21,273.17 202.72,274.86 203.24,275.53 203.76,274.67 204.28,276.63 204.8,274.49 205.31,273.58 205.83,273.1 206.35,273.05 206.87,274.12 207.39,272.18 207.9,273.31 208.42,271.14 208.94,271.39 209.46,270.94 209.97,268.79 210.49,266.95 211.01,266.83 211.53,268.09 212.05,267.5 212.56,267.41 213.08,266.39 213.6,265.03 214.12,264.06 214.63,264.3 215.15,263.18 215.67,263.69 216.19,262.39 216.71,259.88 217.22,259.16 217.74,259.33 218.26,259.07 218.78,258.26 219.3,258.48 219.81,258.27 220.33,255.89 220.85,256.81 221.37,254.62 221.88,255.49 222.4,253.7 222.92,251.29 223.44,251.63 223.96,251.62 224.47,250.56 224.99,251.66 225.51,248.49 226.03,249.51 226.54,248.86 227.06,248.08 227.58,246.63 228.1,246.73 228.62,246.03 229.13,244.32 229.65,244.01 230.17,242.42 230.69,242.36 231.21,241.57 231.72,243.59 232.24,242.23 232.76,241.8 233.28,241.59 233.79,243.07 234.31,242.55 234.83,242.56 235.35,245.1 235.87,245.62 236.38,246.21 236.9,245.81 237.42,247.8 237.94,247.36 238.46,248.52 238.97,249.73 239.49,251.21 240.01,247.9 240.53,249.6 241.04,250.51 241.56,253.8 242.08,252.09 242.6,253.99 243.12,255.59 243.63,255.61 244.15,256.22 244.67,254.85 245.19,256.99 245.7,257.88 246.22,258.07 246.74,258.73 247.26,261.12 247.78,259.43 248.29,261.03 248.81,260.93 249.33,260.94 249.85,263.58 250.37,261.64 250.88,264.89 251.4,265.5 251.92,268.03 252.44,265.15 252.95,267.34 253.47,268.34 253.99,268.95 254.51,268.46 255.03,268.56 255.54,269.52 256.06,271.07 256.58,272.06 257.1,273.83 257.61,273.18 258.13,272.64 258.65,274.01 259.17,272.23 259.69,273.66 260.2,275.36 260.72,274.95 261.24,275.27 261.76,276.23 262.28,275.8 262.79,276.97 263.31,275.79 263.83,274.45 264.35,275.93 264.86,273.79 265.38,275.67 265.9,274.74" fill="none" stroke="#1e8fe6" stroke-width="1.8" stroke-linejoin="round" />
</g>
<rect x="196.5" y="211.9" width="72" height="66.1" fill="none" stroke="#000" stroke-width="1.4"/>
<line x1="192.2" y1="275.5" x2="196.5" y2="275.5" stroke="#000" stroke-width="1.1" />
<line x1="192.2" y1="263.3" x2="196.5" y2="263.3" stroke="#000" stroke-width="1.1" />
<line x1="192.2" y1="251.1" x2="196.5" y2="251.1" stroke="#000" stroke-width="1.1" />
<line x1="192.2" y1="238.9" x2="196.5" y2="238.9" stroke="#000" stroke-width="1.1" />
<line x1="192.2" y1="226.7" x2="196.5" y2="226.7" stroke="#000" stroke-width="1.1" />
<line x1="192.2" y1="214.5" x2="196.5" y2="214.5" stroke="#000" stroke-width="1.1" />
<text x="199.1" y="223.2" font-size="11.3" text-anchor="start" font-weight="bold" fill="#000" >P300</text>
<clipPath id="c01"><rect x="36.5" y="283.2" width="72" height="66.1"/></clipPath>
<line x1="36.5" y1="347.8" x2="108.5" y2="347.8" stroke="#222" stroke-width="0.75" stroke-dasharray="0.9 1.5"/>
<line x1="36.5" y1="335.6" x2="108.5" y2="335.6" stroke="#222" stroke-width="0.75" stroke-dasharray="0.9 1.5"/>
<line x1="36.5" y1="323.4" x2="108.5" y2="323.4" stroke="#222" stroke-width="0.75" stroke-dasharray="0.9 1.5"/>
<line x1="36.5" y1="311.2" x2="108.5" y2="311.2" stroke="#222" stroke-width="0.75" stroke-dasharray="0.9 1.5"/>
<line x1="36.5" y1="299" x2="108.5" y2="299" stroke="#222" stroke-width="0.75" stroke-dasharray="0.9 1.5"/>
<line x1="36.5" y1="286.8" x2="108.5" y2="286.8" stroke="#222" stroke-width="0.75" stroke-dasharray="0.9 1.5"/>
<line x1="39.1" y1="283.2" x2="39.1" y2="349.3" stroke="#222" stroke-width="0.75" stroke-dasharray="0.9 1.5"/>
<line x1="55.8" y1="283.2" x2="55.8" y2="349.3" stroke="#222" stroke-width="0.75" stroke-dasharray="0.9 1.5"/>
<line x1="72.5" y1="283.2" x2="72.5" y2="349.3" stroke="#222" stroke-width="0.75" stroke-dasharray="0.9 1.5"/>
<line x1="89.2" y1="283.2" x2="89.2" y2="349.3" stroke="#222" stroke-width="0.75" stroke-dasharray="0.9 1.5"/>
<line x1="105.9" y1="283.2" x2="105.9" y2="349.3" stroke="#222" stroke-width="0.75" stroke-dasharray="0.9 1.5"/>
<g clip-path="url(#c01)">
<polyline points="39.1,347.66 39.71,347.79 40.33,348.15 40.94,347.52 41.55,347.71 42.16,347.69 42.78,347.74 43.39,347.31 44,347.51 44.62,347.42 45.23,347.88 45.84,347.94 46.45,348.11 47.07,347.87 47.68,348.64 48.29,347.29 48.91,347.75 49.52,347.77 50.13,347.52 50.74,347.91 51.36,347.72 51.97,347.55 52.58,348.28 53.2,347.25 53.81,347.75 54.42,347.6 55.03,348.12 55.65,347.99 56.26,347.26 56.87,347.96 57.49,347.92 58.1,347.64 58.71,347.35 59.32,348.55 59.94,347.33 60.55,347.71 61.16,347.51 61.78,348.11 62.39,347.7 63,347.29 63.61,347.82 64.23,347.99 64.84,347.93 65.45,347.96 66.07,347.54 66.68,347.73 67.29,347.95 67.9,347.55 68.52,348.14 69.13,348.24 69.74,347.02 70.36,347.99 70.97,347.28 71.58,347.82 72.19,347.86 72.81,347.63 73.42,348.06 74.03,348.06 74.64,347.86 75.26,347.92 75.87,347.57 76.48,347.18 77.1,348.16 77.71,348.07 78.32,347.56 78.93,347.63 79.55,347.44 80.16,348.03 80.77,347.61 81.39,347.81 82,348.3 82.61,347.65 83.22,348.29 83.84,347.62 84.45,347.94 85.06,347.86 85.68,347.12 86.29,347.31 86.9,347.66 87.51,347.67 88.13,348.04 88.74,347.4 89.35,347.6 89.97,348.06 90.58,348.32 91.19,347.79 91.8,347.85 92.42,347.52 93.03,348.12 93.64,348.07 94.26,347.66 94.87,347.77 95.48,347.5 96.09,347.44 96.71,348.08 97.32,348.54 97.93,347.78 98.55,348.02 99.16,347.72 99.77,348.64 100.38,347.83 101,347.76 101.61,347.97 102.22,347.63 102.84,347.76 103.45,347.72 104.06,347.39 104.67,347.39 105.29,347.42 105.9,347.68" fill="none" stroke="#b8b8b8" stroke-width="1.6" stroke-linejoin="round" />
<polyline points="39.1,344.01 39.62,344.65 40.14,346.9 40.65,340.91 41.17,348.86 41.69,345.28 42.21,343.24 42.72,343.82 43.24,343.89 43.76,347.59 44.28,341.09 44.8,346.91 45.31,345.42 45.83,345.3 46.35,345.32 46.87,346.5 47.39,341.81 47.9,345.15 48.42,343.06 48.94,348.85 49.46,343.95 49.97,345.79 50.49,344.39 51.01,344.81 51.53,344.3 52.05,345.51 52.56,345.12 53.08,344.99 53.6,344.78 54.12,345.17 54.63,346.15 55.15,344.31 55.67,347.21 56.19,340.66 56.71,343.35 57.22,341.33 57.74,343.87 58.26,344.92 58.78,343.63 59.3,340.25 59.81,338.36 60.33,336.78 60.85,336.39 61.37,334.16 61.88,340.86 62.4,331.81 62.92,336.35 63.44,335.09 63.96,338.83 64.47,333.66 64.99,336.86 65.51,331.89 66.03,331.77 66.54,331.4 67.06,331.58 67.58,331.2 68.1,330.7 68.62,327.35 69.13,328.59 69.65,327.63 70.17,322.19 70.69,326.75 71.21,328.41 71.72,330.92 72.24,331.96 72.76,326.83 73.28,325.74 73.79,330.65 74.31,331.52 74.83,329.95 75.35,329.82 75.87,328.64 76.38,331.6 76.9,333.39 77.42,331.03 77.94,335.29 78.46,337.01 78.97,336.87 79.49,335.71 80.01,336.54 80.53,335.88 81.04,336.57 81.56,332.49 82.08,338.28 82.6,345.53 83.12,345.36 83.63,343.13 84.15,346.39 84.67,340.23 85.19,346.14 85.7,345.82 86.22,344.43 86.74,344.89 87.26,342.74 87.78,344.14 88.29,342.51 88.81,344.37 89.33,348.89 89.85,342.13 90.37,339.65 90.88,345.91 91.4,345.42 91.92,342.73 92.44,345.99 92.95,344.78 93.47,345.71 93.99,343.91 94.51,345.62 95.03,340.81 95.54,345.25 96.06,345.94 96.58,348.6 97.1,345.14 97.61,347.46 98.13,343.78 98.65,343.65 99.17,338.24 99.69,344.7 100.2,341.17 100.72,338.19 101.24,345.29 101.76,340.5 102.28,339.28 102.79,344.35 103.31,345.12 103.83,342.51 104.35,344.71 104.86,344.69 105.38,343.43 105.9,347.1" fill="none" stroke="#e8141c" stroke-width="2.1" stroke-linejoin="round" />
<polyline points="39.1,347.1 39.62,346.44 40.14,345.53 40.65,346.57 41.17,347.04 41.69,347.52 42.21,345.32 42.72,346.19 43.24,346.63 43.76,346.95 44.28,348.39 44.8,345.9 45.31,346.89 45.83,346.04 46.35,344.55 46.87,346.33 47.39,346.11 47.9,345.05 48.42,346.17 48.94,345.84 49.46,347.07 49.97,346.73 50.49,347.32 51.01,344.65 51.53,344.24 52.05,345.75 52.56,345.26 53.08,345.33 53.6,342.15 54.12,343.6 54.63,344.5 55.15,343.51 55.67,342.68 56.19,344.76 56.71,342.96 57.22,342.76 57.74,343.12 58.26,342.16 58.78,341.53 59.3,342.45 59.81,342.6 60.33,341.13 60.85,341.63 61.37,341.15 61.88,339.41 62.4,340.71 62.92,340.89 63.44,341.88 63.96,340 64.47,339.76 64.99,339.28 65.51,339.07 66.03,338.68 66.54,338.89 67.06,338.73 67.58,338.07 68.1,339.05 68.62,339.09 69.13,338.88 69.65,337.61 70.17,339.22 70.69,337.8 71.21,337.37 71.72,336.78 72.24,338.02 72.76,336.96 73.28,337.04 73.79,337.7 74.31,337.27 74.83,337.68 75.35,338.78 75.87,338.25 76.38,339.02 76.9,336.56 77.42,338.85 77.94,339.48 78.46,340.51 78.97,339.37 79.49,339.25 80.01,339.81 80.53,341.41 81.04,341.33 81.56,341.63 82.08,340.64 82.6,341.87 83.12,341.38 83.63,339.81 84.15,343.57 84.67,342.25 85.19,342.25 85.7,343.9 86.22,341.66 86.74,343.15 87.26,342.74 87.78,342.76 88.29,342.16 88.81,344.35 89.33,344.53 89.85,345.34 90.37,345.51 90.88,342.74 91.4,345.11 91.92,346.52 92.44,344.34 92.95,343.46 93.47,346.25 93.99,345.5 94.51,346.92 95.03,347.64 95.54,345.96 96.06,346.95 96.58,346.95 97.1,345.79 97.61,345.42 98.13,346.01 98.65,344.57 99.17,346.43 99.69,346.14 100.2,344.95 100.72,343.63 101.24,343.84 101.76,344.88 102.28,345.67 102.79,347.11 103.31,344.38 103.83,345.89 104.35,343.54 104.86,345.75 105.38,347.71 105.9,344.72" fill="none" stroke="#000000" stroke-width="1.2" stroke-linejoin="round" />
<polyline points="39.1,347.27 39.62,345.71 40.14,343.63 40.65,347.97 41.17,344.33 41.69,346.3 42.21,343.9 42.72,345.85 43.24,345.59 43.76,344.75 44.28,346.21 44.8,345.42 45.31,345.66 45.83,343.37 46.35,344.92 46.87,347.67 47.39,344.74 47.9,344.85 48.42,345.1 48.94,343.1 49.46,343.48 49.97,347.02 50.49,342.92 51.01,345.4 51.53,345.31 52.05,345.35 52.56,344.72 53.08,343.32 53.6,346.09 54.12,344.48 54.63,345.24 55.15,344.48 55.67,344.71 56.19,343.12 56.71,342.75 57.22,345.19 57.74,343.33 58.26,345.88 58.78,343.24 59.3,342.27 59.81,343.53 60.33,339.64 60.85,342.27 61.37,343.99 61.88,342.21 62.4,343.64 62.92,341.79 63.44,342.57 63.96,342.22 64.47,345.97 64.99,343.19 65.51,340.86 66.03,340.73 66.54,340.56 67.06,341.19 67.58,339.98 68.1,339.97 68.62,340.47 69.13,339.47 69.65,339.7 70.17,341.58 70.69,340.04 71.21,339.38 71.72,340.95 72.24,343.53 72.76,341.09 73.28,340.31 73.79,344.35 74.31,342.91 74.83,342.58 75.35,338.6 75.87,339.94 76.38,341.65 76.9,339.99 77.42,340.9 77.94,343.7 78.46,342.18 78.97,340.37 79.49,342.25 80.01,338.4 80.53,342.72 81.04,342.73 81.56,342.59 82.08,342.31 82.6,342.53 83.12,340.72 83.63,339.69 84.15,343.15 84.67,345.14 85.19,343.61 85.7,343.01 86.22,340.84 86.74,342.36 87.26,343.33 87.78,339.54 88.29,345.27 88.81,345.44 89.33,341.75 89.85,343.01 90.37,343.99 90.88,345.95 91.4,343.7 91.92,343.92 92.44,345.44 92.95,344.4 93.47,346.8 93.99,343.12 94.51,346.56 95.03,343.51 95.54,346.4 96.06,346.53 96.58,345.48 97.1,346.48 97.61,344.29 98.13,346.72 98.65,345.26 99.17,344.46 99.69,344.19 100.2,344.18 100.72,345.78 101.24,342.61 101.76,345.66 102.28,346.34 102.79,345.06 103.31,342.72 103.83,347.87 104.35,346.17 104.86,343.34 105.38,345.31 105.9,347.4" fill="none" stroke="#1f63d6" stroke-width="1.2" stroke-linejoin="round" />
<polyline points="39.1,347.69 39.62,346.09 40.14,345.41 40.65,348.29 41.17,346.21 41.69,341.66 42.21,347.58 42.72,346.35 43.24,345.26 43.76,348.69 44.28,345.49 44.8,343.85 45.31,345.58 45.83,347.04 46.35,345.09 46.87,346.44 47.39,344.78 47.9,345.01 48.42,345.15 48.94,346.25 49.46,342.64 49.97,344.41 50.49,343.7 51.01,344.33 51.53,345.01 52.05,343.81 52.56,344.23 53.08,343.99 53.6,344.09 54.12,344.89 54.63,344.03 55.15,343.8 55.67,342.7 56.19,345.19 56.71,342.43 57.22,347.63 57.74,345.53 58.26,343.97 58.78,344.84 59.3,343.18 59.81,347.03 60.33,345.96 60.85,346.24 61.37,343.79 61.88,341.57 62.4,345.41 62.92,344.48 63.44,345.17 63.96,342.34 64.47,342.64 64.99,342.46 65.51,344.63 66.03,343.8 66.54,344.31 67.06,344.13 67.58,343.71 68.1,342.55 68.62,345.73 69.13,340.92 69.65,342.79 70.17,340.04 70.69,340.97 71.21,342.6 71.72,342.24 72.24,341.34 72.76,344.18 73.28,341.29 73.79,342.84 74.31,342.55 74.83,343.78 75.35,343.02 75.87,344.29 76.38,344.49 76.9,342.63 77.42,341.82 77.94,342.76 78.46,345.29 78.97,343.61 79.49,344.23 80.01,343.63 80.53,344.41 81.04,344.25 81.56,343.01 82.08,343.99 82.6,343.54 83.12,344.3 83.63,344.99 84.15,344.31 84.67,345.99 85.19,343.31 85.7,343.88 86.22,344.08 86.74,342.43 87.26,345.47 87.78,342.3 88.29,342.79 88.81,343.68 89.33,345.56 89.85,343.66 90.37,344.94 90.88,345.44 91.4,344.13 91.92,343.92 92.44,345.64 92.95,344.55 93.47,339.21 93.99,346.06 94.51,343.86 95.03,345.04 95.54,345.69 96.06,344.04 96.58,346.99 97.1,347.57 97.61,344.89 98.13,344.57 98.65,345.56 99.17,343.41 99.69,345.62 100.2,344.8 100.72,347.43 101.24,342.9 101.76,345.94 102.28,345.32 102.79,344.54 103.31,346.27 103.83,344.69 104.35,345.12 104.86,343.54 105.38,346.83 105.9,345.38" fill="none" stroke="#1e8fe6" stroke-width="1.9" stroke-linejoin="round" />
</g>
<rect x="36.5" y="283.2" width="72" height="66.1" fill="none" stroke="#000" stroke-width="1.4"/>
<line x1="32.2" y1="347.8" x2="36.5" y2="347.8" stroke="#000" stroke-width="1.1" />
<text x="31.6" y="351.1" font-size="9.2" text-anchor="end" font-weight="bold" fill="#000" textLength="16.29" lengthAdjust="spacingAndGlyphs">0.00</text>
<line x1="32.2" y1="335.6" x2="36.5" y2="335.6" stroke="#000" stroke-width="1.1" />
<text x="31.6" y="338.9" font-size="9.2" text-anchor="end" font-weight="bold" fill="#000" textLength="16.29" lengthAdjust="spacingAndGlyphs">0.25</text>
<line x1="32.2" y1="323.4" x2="36.5" y2="323.4" stroke="#000" stroke-width="1.1" />
<text x="31.6" y="326.7" font-size="9.2" text-anchor="end" font-weight="bold" fill="#000" textLength="16.29" lengthAdjust="spacingAndGlyphs">0.50</text>
<line x1="32.2" y1="311.2" x2="36.5" y2="311.2" stroke="#000" stroke-width="1.1" />
<text x="31.6" y="314.5" font-size="9.2" text-anchor="end" font-weight="bold" fill="#000" textLength="16.29" lengthAdjust="spacingAndGlyphs">0.75</text>
<line x1="32.2" y1="299" x2="36.5" y2="299" stroke="#000" stroke-width="1.1" />
<text x="31.6" y="302.3" font-size="9.2" text-anchor="end" font-weight="bold" fill="#000" textLength="16.29" lengthAdjust="spacingAndGlyphs">1.00</text>
<line x1="32.2" y1="286.8" x2="36.5" y2="286.8" stroke="#000" stroke-width="1.1" />
<text x="31.6" y="290.1" font-size="9.2" text-anchor="end" font-weight="bold" fill="#000" textLength="16.29" lengthAdjust="spacingAndGlyphs">1.25</text>
<line x1="39.1" y1="349.3" x2="39.1" y2="354.1" stroke="#000" stroke-width="1.1" />
<text x="38.5" y="363.8" font-size="10.3" text-anchor="middle" font-weight="bold" fill="#000" textLength="7.51" lengthAdjust="spacingAndGlyphs">-4</text>
<line x1="55.8" y1="349.3" x2="55.8" y2="354.1" stroke="#000" stroke-width="1.1" />
<text x="55.2" y="363.8" font-size="10.3" text-anchor="middle" font-weight="bold" fill="#000" textLength="7.51" lengthAdjust="spacingAndGlyphs">-2</text>
<line x1="72.5" y1="349.3" x2="72.5" y2="354.1" stroke="#000" stroke-width="1.1" />
<text x="72.5" y="363.8" font-size="10.3" text-anchor="middle" font-weight="bold" fill="#000" textLength="4.7" lengthAdjust="spacingAndGlyphs">0</text>
<line x1="89.2" y1="349.3" x2="89.2" y2="354.1" stroke="#000" stroke-width="1.1" />
<text x="89.2" y="363.8" font-size="10.3" text-anchor="middle" font-weight="bold" fill="#000" textLength="4.7" lengthAdjust="spacingAndGlyphs">2</text>
<line x1="105.9" y1="349.3" x2="105.9" y2="354.1" stroke="#000" stroke-width="1.1" />
<text x="105.9" y="363.8" font-size="10.3" text-anchor="middle" font-weight="bold" fill="#000" textLength="4.7" lengthAdjust="spacingAndGlyphs">4</text>
<text x="39.1" y="294.5" font-size="11.3" text-anchor="start" font-weight="bold" fill="#000" >C/EBPA</text>
<clipPath id="c11"><rect x="116.5" y="283.2" width="72" height="66.1"/></clipPath>
<line x1="116.5" y1="347.8" x2="188.5" y2="347.8" stroke="#222" stroke-width="0.75" stroke-dasharray="0.9 1.5"/>
<line x1="116.5" y1="335.6" x2="188.5" y2="335.6" stroke="#222" stroke-width="0.75" stroke-dasharray="0.9 1.5"/>
<line x1="116.5" y1="323.4" x2="188.5" y2="323.4" stroke="#222" stroke-width="0.75" stroke-dasharray="0.9 1.5"/>
<line x1="116.5" y1="311.2" x2="188.5" y2="311.2" stroke="#222" stroke-width="0.75" stroke-dasharray="0.9 1.5"/>
<line x1="116.5" y1="299" x2="188.5" y2="299" stroke="#222" stroke-width="0.75" stroke-dasharray="0.9 1.5"/>
<line x1="116.5" y1="286.8" x2="188.5" y2="286.8" stroke="#222" stroke-width="0.75" stroke-dasharray="0.9 1.5"/>
<line x1="119.1" y1="283.2" x2="119.1" y2="349.3" stroke="#222" stroke-width="0.75" stroke-dasharray="0.9 1.5"/>
<line x1="135.8" y1="283.2" x2="135.8" y2="349.3" stroke="#222" stroke-width="0.75" stroke-dasharray="0.9 1.5"/>
<line x1="152.5" y1="283.2" x2="152.5" y2="349.3" stroke="#222" stroke-width="0.75" stroke-dasharray="0.9 1.5"/>
<line x1="169.2" y1="283.2" x2="169.2" y2="349.3" stroke="#222" stroke-width="0.75" stroke-dasharray="0.9 1.5"/>
<line x1="185.9" y1="283.2" x2="185.9" y2="349.3" stroke="#222" stroke-width="0.75" stroke-dasharray="0.9 1.5"/>
<g clip-path="url(#c11)">
<polyline points="119.1,347.96 119.71,347.66 120.33,347.47 120.94,347.24 121.55,348.2 122.16,348.01 122.78,348.07 123.39,347.89 124,347.84 124.62,348.18 125.23,347.72 125.84,348.22 126.45,347.63 127.07,348.07 127.68,347.71 128.29,347.66 128.91,347.83 129.52,347.97 130.13,348.03 130.74,348.14 131.36,347.32 131.97,347.61 132.58,347.22 133.2,347.68 133.81,347.69 134.42,347.97 135.03,347.87 135.65,348.27 136.26,347.49 136.87,347.49 137.49,347.34 138.1,347.35 138.71,348.11 139.32,348.56 139.94,347.56 140.55,347.72 141.16,348.09 141.78,348.07 142.39,347.55 143,347.24 143.61,347.66 144.23,348 144.84,347.54 145.45,347.46 146.07,348.16 146.68,347.56 147.29,348.09 147.9,347.79 148.52,347.64 149.13,347.78 149.74,348.26 150.36,347.68 150.97,348.23 151.58,347.58 152.19,348.38 152.81,347.95 153.42,347.94 154.03,348.01 154.64,347.73 155.26,347.72 155.87,347.23 156.48,347.66 157.1,347.46 157.71,348.15 158.32,347.47 158.93,347.53 159.55,347.37 160.16,347.36 160.77,348.07 161.39,348.2 162,348.04 162.61,347.99 163.22,347.37 163.84,348.41 164.45,347.78 165.06,347.49 165.68,347.85 166.29,348.24 166.9,348.07 167.51,347.63 168.13,347.57 168.74,347.85 169.35,347.69 169.97,347.37 170.58,347.91 171.19,347.18 171.8,348.11 172.42,347.21 173.03,348.24 173.64,347.38 174.26,347.8 174.87,348.28 175.48,347.76 176.09,347.63 176.71,347.62 177.32,347.76 177.93,347.85 178.55,347.89 179.16,347.77 179.77,347.42 180.38,347.65 181,347.58 181.61,347.74 182.22,347.36 182.84,347.05 183.45,347.11 184.06,348.18 184.67,348.07 185.29,348.13 185.9,347.91" fill="none" stroke="#b8b8b8" stroke-width="1.6" stroke-linejoin="round" />
<polyline points="119.1,345.66 119.62,345.72 120.14,345.58 120.65,343.79 121.17,345.6 121.69,348.6 122.21,344.58 122.72,345.88 123.24,345.76 123.76,345.01 124.28,344.74 124.8,342.67 125.31,343.76 125.83,344.93 126.35,346.76 126.87,347.33 127.39,344.52 127.9,342.13 128.42,344.86 128.94,345.12 129.46,343.65 129.97,347.92 130.49,345.33 131.01,343.46 131.53,342.51 132.05,344.83 132.56,343.33 133.08,343.46 133.6,342.11 134.12,346.09 134.63,342.2 135.15,346.55 135.67,348.75 136.19,344.07 136.71,344.48 137.22,340.25 137.74,340.41 138.26,344.22 138.78,339.34 139.3,343.05 139.81,340.66 140.33,340.73 140.85,339.43 141.37,337.48 141.88,337.45 142.4,337.66 142.92,336.57 143.44,336.51 143.96,338.51 144.47,338.27 144.99,337.31 145.51,334.77 146.03,336.01 146.54,329.95 147.06,336.51 147.58,336.78 148.1,332.36 148.62,330.63 149.13,332.39 149.65,331.43 150.17,329.94 150.69,333.12 151.21,335.92 151.72,333.89 152.24,330.58 152.76,335.85 153.28,332.64 153.79,332.24 154.31,333.61 154.83,331.48 155.35,331.99 155.87,328.4 156.38,332.4 156.9,335.39 157.42,335.6 157.94,336.54 158.46,332.99 158.97,336.71 159.49,336.02 160.01,334.63 160.53,338.29 161.04,337.77 161.56,341.6 162.08,340.37 162.6,339.67 163.12,337.94 163.63,336.65 164.15,339.73 164.67,339.51 165.19,340.1 165.7,338.46 166.22,339.24 166.74,340.94 167.26,344.09 167.78,340.19 168.29,341.63 168.81,340.04 169.33,343.06 169.85,338.94 170.37,344.23 170.88,340.15 171.4,343.58 171.92,345.14 172.44,346.63 172.95,344.63 173.47,341.3 173.99,342.75 174.51,343.13 175.03,349.95 175.54,343.25 176.06,343.67 176.58,346.16 177.1,346.39 177.61,345.06 178.13,341.31 178.65,347.46 179.17,346.11 179.69,342.21 180.2,346.21 180.72,346.05 181.24,345.05 181.76,348.01 182.28,344.81 182.79,347.96 183.31,343.37 183.83,345.32 184.35,340.31 184.86,344.72 185.38,342.34 185.9,348.2" fill="none" stroke="#e8141c" stroke-width="1.4" stroke-linejoin="round" />
<polyline points="119.1,343.88 119.62,344.98 120.14,344.67 120.65,344.48 121.17,346.15 121.69,346.85 122.21,346.41 122.72,344.97 123.24,344.26 123.76,345.15 124.28,346.59 124.8,343.87 125.31,346.79 125.83,345.67 126.35,345.72 126.87,344.89 127.39,344.02 127.9,346.51 128.42,345.31 128.94,344.63 129.46,346.02 129.97,344.89 130.49,344.54 131.01,345.94 131.53,345.81 132.05,344.47 132.56,344.52 133.08,343.94 133.6,341.85 134.12,342.97 134.63,343.23 135.15,344.17 135.67,342.36 136.19,343.8 136.71,341.27 137.22,341.39 137.74,344.23 138.26,343.13 138.78,341.87 139.3,341.76 139.81,342.27 140.33,341.89 140.85,339.63 141.37,340.5 141.88,341.1 142.4,339.5 142.92,337.9 143.44,336.82 143.96,338.02 144.47,338.01 144.99,338.11 145.51,337.47 146.03,336.08 146.54,335.04 147.06,334.73 147.58,335.87 148.1,334.49 148.62,334.35 149.13,334.42 149.65,337.05 150.17,334.55 150.69,334.63 151.21,332.95 151.72,334.45 152.24,333.7 152.76,333.89 153.28,332.94 153.79,333.5 154.31,333.35 154.83,333.03 155.35,333.73 155.87,334.1 156.38,335.35 156.9,335.26 157.42,333.53 157.94,335.91 158.46,335.77 158.97,336.68 159.49,337.24 160.01,340.25 160.53,336.03 161.04,339.23 161.56,339.27 162.08,337.52 162.6,341.52 163.12,339.58 163.63,340.52 164.15,342.14 164.67,340.09 165.19,341.79 165.7,341.47 166.22,342.1 166.74,341.36 167.26,340.07 167.78,343.77 168.29,341.96 168.81,343.71 169.33,343.61 169.85,345.32 170.37,344.78 170.88,344.27 171.4,343.21 171.92,343.92 172.44,343.73 172.95,343.71 173.47,345.88 173.99,343.22 174.51,345.04 175.03,344.14 175.54,345.05 176.06,344.68 176.58,344.37 177.1,347.25 177.61,343.13 178.13,344.96 178.65,344.1 179.17,344.98 179.69,345.13 180.2,346.53 180.72,345.64 181.24,347.44 181.76,345.44 182.28,343.76 182.79,347.15 183.31,345.99 183.83,345.69 184.35,344.2 184.86,344.13 185.38,345.28 185.9,345.26" fill="none" stroke="#000000" stroke-width="1.1" stroke-linejoin="round" />
<polyline points="119.1,347.13 119.62,344.18 120.14,344.65 120.65,346.14 121.17,345.26 121.69,344.9 122.21,345.14 122.72,345.14 123.24,344.15 123.76,343.56 124.28,342.63 124.8,345.4 125.31,346.46 125.83,343.97 126.35,345.69 126.87,346.52 127.39,342.12 127.9,343.55 128.42,345.57 128.94,345.45 129.46,344.13 129.97,344.41 130.49,343.85 131.01,344.75 131.53,347.61 132.05,347.5 132.56,342.51 133.08,343.63 133.6,347.6 134.12,343.11 134.63,342.95 135.15,342 135.67,342.99 136.19,342.2 136.71,343.92 137.22,344.97 137.74,342.31 138.26,341.36 138.78,341.84 139.3,343.56 139.81,341.34 140.33,341.34 140.85,338.52 141.37,341.38 141.88,340.65 142.4,339.57 142.92,337.8 143.44,335.69 143.96,336.42 144.47,339.19 144.99,338.07 145.51,333.26 146.03,335.19 146.54,335.51 147.06,334.04 147.58,333.35 148.1,331.2 148.62,333.5 149.13,334.79 149.65,334.97 150.17,331.47 150.69,332.97 151.21,332.54 151.72,331.93 152.24,334.43 152.76,329.93 153.28,333.19 153.79,333.17 154.31,333.41 154.83,332.86 155.35,333.89 155.87,334.11 156.38,332.71 156.9,331.84 157.42,333.15 157.94,336.75 158.46,335.74 158.97,333.09 159.49,335.89 160.01,336.08 160.53,337.09 161.04,334.55 161.56,338.34 162.08,338.79 162.6,336.69 163.12,341.56 163.63,340.07 164.15,335.41 164.67,340.13 165.19,339.85 165.7,344.25 166.22,341.47 166.74,343.29 167.26,343.13 167.78,343.57 168.29,342.36 168.81,343.27 169.33,341.34 169.85,347.14 170.37,344.64 170.88,342.48 171.4,343.26 171.92,341.66 172.44,345.03 172.95,342.65 173.47,343.59 173.99,346.73 174.51,347.7 175.03,341.55 175.54,342.95 176.06,344.71 176.58,346.32 177.1,348.13 177.61,345.72 178.13,344.99 178.65,342.49 179.17,345.79 179.69,345.45 180.2,345.47 180.72,343.5 181.24,342.64 181.76,342.13 182.28,345.29 182.79,344.06 183.31,347.03 183.83,346.52 184.35,345.97 184.86,343.96 185.38,349.08 185.9,345.26" fill="none" stroke="#1f63d6" stroke-width="1.2" stroke-linejoin="round" />
<polyline points="119.1,345.58 119.62,343.66 120.14,344.18 120.65,344.67 121.17,345.13 121.69,345.22 122.21,345.46 122.72,344.58 123.24,346.19 123.76,343.03 124.28,343.25 124.8,344.77 125.31,343.48 125.83,343.22 126.35,345.23 126.87,346.12 127.39,343.72 127.9,346.92 128.42,343.63 128.94,344.23 129.46,345.85 129.97,347.91 130.49,344.14 131.01,343.59 131.53,343.87 132.05,348.05 132.56,343.67 133.08,343.7 133.6,343.88 134.12,344.99 134.63,345.79 135.15,341.36 135.67,343.14 136.19,344.99 136.71,340.98 137.22,344.06 137.74,341.23 138.26,343.65 138.78,341.79 139.3,341.3 139.81,337.94 140.33,342.02 140.85,341.12 141.37,337.86 141.88,337.39 142.4,338.51 142.92,339.15 143.44,338.72 143.96,339.83 144.47,335.61 144.99,335.62 145.51,334.96 146.03,334.61 146.54,334.73 147.06,333.63 147.58,336.15 148.1,331.64 148.62,333.68 149.13,334.92 149.65,335.22 150.17,333.84 150.69,332.19 151.21,332.44 151.72,331.34 152.24,329.81 152.76,332.08 153.28,331.57 153.79,332.05 154.31,334.63 154.83,334.18 155.35,334.01 155.87,332.4 156.38,336.07 156.9,331.05 157.42,335.88 157.94,336.52 158.46,336.36 158.97,337.3 159.49,336.04 160.01,336.37 160.53,334.26 161.04,337.97 161.56,336.2 162.08,337.15 162.6,338.01 163.12,342.13 163.63,338.79 164.15,339.59 164.67,341.84 165.19,339.41 165.7,339.06 166.22,340.24 166.74,341.65 167.26,343.6 167.78,341.45 168.29,343.76 168.81,342.12 169.33,344.33 169.85,344.47 170.37,342.7 170.88,344.47 171.4,346.83 171.92,342.3 172.44,343.35 172.95,343.19 173.47,346.39 173.99,344.43 174.51,343.28 175.03,343.99 175.54,345.5 176.06,343.51 176.58,345.38 177.1,347.3 177.61,345.36 178.13,345.93 178.65,346.92 179.17,343.77 179.69,346.76 180.2,343.39 180.72,346.32 181.24,345.69 181.76,345.55 182.28,344.41 182.79,345.88 183.31,345.24 183.83,344.86 184.35,346.35 184.86,346.31 185.38,346.88 185.9,347.54" fill="none" stroke="#1e8fe6" stroke-width="2" stroke-linejoin="round" />
</g>
<rect x="116.5" y="283.2" width="72" height="66.1" fill="none" stroke="#000" stroke-width="1.4"/>
<line x1="112.2" y1="347.8" x2="116.5" y2="347.8" stroke="#000" stroke-width="1.1" />
<line x1="112.2" y1="335.6" x2="116.5" y2="335.6" stroke="#000" stroke-width="1.1" />
<line x1="112.2" y1="323.4" x2="116.5" y2="323.4" stroke="#000" stroke-width="1.1" />
<line x1="112.2" y1="311.2" x2="116.5" y2="311.2" stroke="#000" stroke-width="1.1" />
<line x1="112.2" y1="299" x2="116.5" y2="299" stroke="#000" stroke-width="1.1" />
<line x1="112.2" y1="286.8" x2="116.5" y2="286.8" stroke="#000" stroke-width="1.1" />
<line x1="119.1" y1="349.3" x2="119.1" y2="354.1" stroke="#000" stroke-width="1.1" />
<text x="118.5" y="363.8" font-size="10.3" text-anchor="middle" font-weight="bold" fill="#000" textLength="7.51" lengthAdjust="spacingAndGlyphs">-4</text>
<line x1="135.8" y1="349.3" x2="135.8" y2="354.1" stroke="#000" stroke-width="1.1" />
<text x="135.2" y="363.8" font-size="10.3" text-anchor="middle" font-weight="bold" fill="#000" textLength="7.51" lengthAdjust="spacingAndGlyphs">-2</text>
<line x1="152.5" y1="349.3" x2="152.5" y2="354.1" stroke="#000" stroke-width="1.1" />
<text x="152.5" y="363.8" font-size="10.3" text-anchor="middle" font-weight="bold" fill="#000" textLength="4.7" lengthAdjust="spacingAndGlyphs">0</text>
<line x1="169.2" y1="349.3" x2="169.2" y2="354.1" stroke="#000" stroke-width="1.1" />
<text x="169.2" y="363.8" font-size="10.3" text-anchor="middle" font-weight="bold" fill="#000" textLength="4.7" lengthAdjust="spacingAndGlyphs">2</text>
<line x1="185.9" y1="349.3" x2="185.9" y2="354.1" stroke="#000" stroke-width="1.1" />
<text x="185.9" y="363.8" font-size="10.3" text-anchor="middle" font-weight="bold" fill="#000" textLength="4.7" lengthAdjust="spacingAndGlyphs">4</text>
<text x="119.1" y="294.5" font-size="11.3" text-anchor="start" font-weight="bold" fill="#000" >STAT5</text>
<clipPath id="c21"><rect x="196.5" y="283.2" width="72" height="66.1"/></clipPath>
<line x1="196.5" y1="347.8" x2="268.5" y2="347.8" stroke="#222" stroke-width="0.75" stroke-dasharray="0.9 1.5"/>
<line x1="196.5" y1="335.6" x2="268.5" y2="335.6" stroke="#222" stroke-width="0.75" stroke-dasharray="0.9 1.5"/>
<line x1="196.5" y1="323.4" x2="268.5" y2="323.4" stroke="#222" stroke-width="0.75" stroke-dasharray="0.9 1.5"/>
<line x1="196.5" y1="311.2" x2="268.5" y2="311.2" stroke="#222" stroke-width="0.75" stroke-dasharray="0.9 1.5"/>
<line x1="196.5" y1="299" x2="268.5" y2="299" stroke="#222" stroke-width="0.75" stroke-dasharray="0.9 1.5"/>
<line x1="196.5" y1="286.8" x2="268.5" y2="286.8" stroke="#222" stroke-width="0.75" stroke-dasharray="0.9 1.5"/>
<line x1="199.1" y1="283.2" x2="199.1" y2="349.3" stroke="#222" stroke-width="0.75" stroke-dasharray="0.9 1.5"/>
<line x1="215.8" y1="283.2" x2="215.8" y2="349.3" stroke="#222" stroke-width="0.75" stroke-dasharray="0.9 1.5"/>
<line x1="232.5" y1="283.2" x2="232.5" y2="349.3" stroke="#222" stroke-width="0.75" stroke-dasharray="0.9 1.5"/>
<line x1="249.2" y1="283.2" x2="249.2" y2="349.3" stroke="#222" stroke-width="0.75" stroke-dasharray="0.9 1.5"/>
<line x1="265.9" y1="283.2" x2="265.9" y2="349.3" stroke="#222" stroke-width="0.75" stroke-dasharray="0.9 1.5"/>
<g clip-path="url(#c21)">
<polyline points="199.1,346.79 199.71,345.94 200.33,346.04 200.94,345.42 201.55,346.04 202.16,344.42 202.78,343.53 203.39,343.37 204,341.28 204.62,342.98 205.23,344.74 205.84,345.27 206.45,346.51 207.07,346.82 207.68,345.97 208.29,346.81 208.91,345.39 209.52,346.97 210.13,346.27 210.74,346.72 211.36,348.15 211.97,346.64 212.58,346.38 213.2,345.91 213.81,347.69 214.42,345.87 215.03,345.71 215.65,347.38 216.26,346.39 216.87,345.66 217.49,348.11 218.1,346.3 218.71,348.39 219.32,346.53 219.94,345.46 220.55,346.94 221.16,346.2 221.78,348.03 222.39,347.2 223,347.07 223.61,346 224.23,346.87 224.84,345.96 225.45,346.47 226.07,346.57 226.68,345.23 227.29,344.32 227.9,344.12 228.52,343.14 229.13,344.86 229.74,344.77 230.36,345.09 230.97,346.37 231.58,345.88 232.19,345.6 232.81,346.25 233.42,343.22 234.03,344.12 234.64,342.86 235.26,345.47 235.87,341.96 236.48,343.51 237.1,344.33 237.71,344.25 238.32,344.01 238.93,346.8 239.55,345.1 240.16,347.39 240.77,345.69 241.39,346.49 242,345.89 242.61,346.27 243.22,347.63 243.84,347.27 244.45,346.49 245.06,347.23 245.68,346.95 246.29,347.79 246.9,346.36 247.51,344.85 248.13,346.05 248.74,346.55 249.35,347.78 249.97,347.04 250.58,345.9 251.19,346.93 251.8,346.36 252.42,347.22 253.03,347.23 253.64,346.78 254.26,347.31 254.87,347.41 255.48,346.75 256.09,347.17 256.71,348.63 257.32,346.41 257.93,345.73 258.55,346.64 259.16,346.97 259.77,346.89 260.38,345.58 261,343.9 261.61,342.36 262.22,343.4 262.84,344.63 263.45,346.52 264.06,346.39 264.67,347.48 265.29,345.52 265.9,346.68" fill="none" stroke="#b8b8b8" stroke-width="1.6" stroke-linejoin="round" />
<polyline points="199.1,344.99 199.62,345.8 200.14,346.06 200.65,348.14 201.17,343.51 201.69,346.37 202.21,344.4 202.72,346.1 203.24,343.15 203.76,345.43 204.28,344.45 204.8,343.35 205.31,345.5 205.83,345.43 206.35,345.13 206.87,344.54 207.39,343.4 207.9,343.89 208.42,344.07 208.94,342.35 209.46,343.49 209.97,345.91 210.49,340.49 211.01,346.82 211.53,338.65 212.05,345.83 212.56,345.15 213.08,343.39 213.6,339.49 214.12,342.98 214.63,339.03 215.15,338.18 215.67,341.15 216.19,339.56 216.71,337.63 217.22,337.51 217.74,339.04 218.26,340.98 218.78,337.9 219.3,337.97 219.81,335.25 220.33,334.82 220.85,335.78 221.37,335.89 221.88,334.37 222.4,332.12 222.92,330.92 223.44,330.38 223.96,328.75 224.47,328.14 224.99,330.77 225.51,326.7 226.03,331.38 226.54,327.29 227.06,328.25 227.58,331.61 228.1,324.23 228.62,322.78 229.13,324.63 229.65,330.19 230.17,332.03 230.69,325.24 231.21,326.21 231.72,328.39 232.24,328.65 232.76,331.11 233.28,327.29 233.79,332.34 234.31,331.15 234.83,328.87 235.35,325.78 235.87,327.58 236.38,327.39 236.9,327.21 237.42,328.79 237.94,332.27 238.46,331.01 238.97,331.89 239.49,334.02 240.01,333.47 240.53,334.14 241.04,337.53 241.56,338.4 242.08,335.72 242.6,334.88 243.12,334.9 243.63,334.79 244.15,337.19 244.67,338.17 245.19,340.25 245.7,342.17 246.22,346.51 246.74,341.12 247.26,339.54 247.78,341.36 248.29,337.52 248.81,338.72 249.33,340.54 249.85,342.97 250.37,339.32 250.88,340.05 251.4,346.31 251.92,342.79 252.44,341.4 252.95,346.01 253.47,340.28 253.99,344.9 254.51,343.4 255.03,345.59 255.54,344.42 256.06,344.47 256.58,341.78 257.1,345.89 257.61,344.07 258.13,343.82 258.65,346.12 259.17,344.56 259.69,348.75 260.2,348.57 260.72,346.72 261.24,349.34 261.76,347.74 262.28,346.31 262.79,347.36 263.31,347.21 263.83,347.93 264.35,344.81 264.86,346.3 265.38,351.27 265.9,344.1" fill="none" stroke="#e8141c" stroke-width="1.8" stroke-linejoin="round" />
<polyline points="199.1,347.44 199.62,347.33 200.14,347.4 200.65,345.97 201.17,345.45 201.69,346.6 202.21,346.36 202.72,347.4 203.24,346.07 203.76,346.33 204.28,344.94 204.8,343.94 205.31,346.09 205.83,346.61 206.35,346.01 206.87,346.38 207.39,346.38 207.9,345.2 208.42,345.67 208.94,345.24 209.46,346.6 209.97,345.48 210.49,345.76 211.01,344.2 211.53,344.79 212.05,344.9 212.56,344.75 213.08,344.19 213.6,344.63 214.12,344.75 214.63,344.34 215.15,343.36 215.67,343.08 216.19,344.21 216.71,343.97 217.22,341.9 217.74,341.91 218.26,340.96 218.78,340.73 219.3,340.98 219.81,340.31 220.33,339.85 220.85,340.19 221.37,340.31 221.88,337.86 222.4,337.93 222.92,338.25 223.44,336.87 223.96,336.74 224.47,335.64 224.99,334.87 225.51,334.2 226.03,334.78 226.54,333.8 227.06,334.96 227.58,334.75 228.1,334.47 228.62,333.15 229.13,332.61 229.65,332.97 230.17,332.4 230.69,331.84 231.21,332.36 231.72,333 232.24,332.42 232.76,332 233.28,331.48 233.79,331.55 234.31,332.33 234.83,331.79 235.35,332.74 235.87,332.4 236.38,332.72 236.9,332.1 237.42,334.53 237.94,334.87 238.46,334.48 238.97,333.68 239.49,335.84 240.01,336.06 240.53,335.6 241.04,335.19 241.56,337.6 242.08,337.05 242.6,336.97 243.12,337.81 243.63,339.08 244.15,338.61 244.67,340.15 245.19,341.32 245.7,341.24 246.22,340.84 246.74,341.82 247.26,342.52 247.78,343.71 248.29,343.9 248.81,342.03 249.33,343.8 249.85,343.92 250.37,344.07 250.88,343.45 251.4,345.78 251.92,344.65 252.44,344.48 252.95,345.63 253.47,345.19 253.99,344.46 254.51,346.3 255.03,346.25 255.54,345.16 256.06,346.71 256.58,345.59 257.1,346.49 257.61,346.7 258.13,345.67 258.65,344.69 259.17,345.5 259.69,345.89 260.2,346.27 260.72,346.2 261.24,346.69 261.76,346.59 262.28,346.38 262.79,345.98 263.31,346.95 263.83,345.61 264.35,344.95 264.86,345.87 265.38,345.41 265.9,346.4" fill="none" stroke="#000000" stroke-width="1.3" stroke-linejoin="round" />
<polyline points="199.1,345.74 199.62,346.65 200.14,347.61 200.65,346.77 201.17,345.12 201.69,346.57 202.21,347.77 202.72,345.71 203.24,348.21 203.76,344.39 204.28,344.77 204.8,347.51 205.31,342.66 205.83,344.82 206.35,347.62 206.87,346.5 207.39,347.37 207.9,346.28 208.42,344.95 208.94,346.17 209.46,342.62 209.97,341.78 210.49,345.56 211.01,344.4 211.53,347.67 212.05,344.13 212.56,345.12 213.08,344.68 213.6,344.74 214.12,343.59 214.63,341.71 215.15,343.71 215.67,343.88 216.19,344.23 216.71,343.15 217.22,339.61 217.74,343.15 218.26,343.7 218.78,345.18 219.3,343.45 219.81,341.32 220.33,339.37 220.85,339.33 221.37,340.21 221.88,339.88 222.4,338.49 222.92,340.22 223.44,338.03 223.96,337.54 224.47,338.79 224.99,335.4 225.51,337.07 226.03,334.93 226.54,337.77 227.06,336.68 227.58,334.97 228.1,335.74 228.62,336.04 229.13,333.97 229.65,334.61 230.17,334.79 230.69,333.48 231.21,333.06 231.72,332.03 232.24,335.75 232.76,334.6 233.28,334.99 233.79,333.81 234.31,334.39 234.83,337.1 235.35,334.42 235.87,338.05 236.38,336.49 236.9,336.53 237.42,336.64 237.94,336.05 238.46,337.61 238.97,335.96 239.49,336.29 240.01,338.91 240.53,336.84 241.04,337.58 241.56,340.01 242.08,337.35 242.6,338.74 243.12,341.38 243.63,341.05 244.15,341.79 244.67,341.49 245.19,339.28 245.7,341.56 246.22,343.66 246.74,340.4 247.26,343.7 247.78,343.21 248.29,343.86 248.81,343.04 249.33,343.95 249.85,343.86 250.37,343.67 250.88,343.63 251.4,342.95 251.92,345.42 252.44,345.21 252.95,344.52 253.47,343.34 253.99,345.73 254.51,344.71 255.03,345.27 255.54,346.57 256.06,344.49 256.58,345.07 257.1,345.91 257.61,346.07 258.13,346.54 258.65,346.61 259.17,345.15 259.69,347.13 260.2,346.75 260.72,345.25 261.24,345.91 261.76,346.07 262.28,347.67 262.79,346.29 263.31,345.94 263.83,345.77 264.35,348.88 264.86,345.39 265.38,344.6 265.9,345.68" fill="none" stroke="#1f63d6" stroke-width="1.2" stroke-linejoin="round" />
<polyline points="199.1,343.79 199.62,344.7 200.14,345.12 200.65,344.68 201.17,345.19 201.69,347.98 202.21,346.63 202.72,345.18 203.24,346.79 203.76,349.34 204.28,346.99 204.8,347.47 205.31,347.1 205.83,345.31 206.35,346.33 206.87,347.31 207.39,347.68 207.9,346.32 208.42,346.13 208.94,346.09 209.46,345.53 209.97,343.79 210.49,347.7 211.01,346.49 211.53,344.55 212.05,344.99 212.56,347.17 213.08,345.03 213.6,344.16 214.12,342.74 214.63,345.4 215.15,343.78 215.67,343.85 216.19,344.42 216.71,342.72 217.22,343.87 217.74,343.72 218.26,342.3 218.78,344.94 219.3,341.89 219.81,341.77 220.33,340.22 220.85,342.39 221.37,340.72 221.88,339.48 222.4,339.06 222.92,341.29 223.44,339.07 223.96,339.9 224.47,339.46 224.99,337.73 225.51,340.81 226.03,338.23 226.54,335.64 227.06,337.93 227.58,338.32 228.1,337.17 228.62,336.39 229.13,337.85 229.65,335.84 230.17,337.78 230.69,336.15 231.21,336.78 231.72,336.31 232.24,335.84 232.76,334.55 233.28,336.87 233.79,336.05 234.31,336.84 234.83,333.04 235.35,335.93 235.87,338.57 236.38,337.67 236.9,336.11 237.42,337.79 237.94,339.11 238.46,338.09 238.97,338.42 239.49,338.66 240.01,339.58 240.53,339.81 241.04,338.11 241.56,338.59 242.08,340.5 242.6,340.95 243.12,341.44 243.63,340.25 244.15,341.77 244.67,343.53 245.19,342.52 245.7,342.77 246.22,343.9 246.74,343.03 247.26,343.33 247.78,341.89 248.29,343.83 248.81,344.69 249.33,344.66 249.85,346.07 250.37,344.3 250.88,345.23 251.4,344.53 251.92,344.19 252.44,342.81 252.95,344.87 253.47,343.98 253.99,345.71 254.51,346.43 255.03,345.19 255.54,347.06 256.06,345.05 256.58,346.16 257.1,346.98 257.61,345.48 258.13,346.23 258.65,344.81 259.17,347.22 259.69,345.61 260.2,345.44 260.72,347 261.24,344.31 261.76,345.53 262.28,346.5 262.79,346.16 263.31,346.22 263.83,348.25 264.35,347.56 264.86,348.17 265.38,346.59 265.9,343.99" fill="none" stroke="#1e8fe6" stroke-width="2" stroke-linejoin="round" />
</g>
<rect x="196.5" y="283.2" width="72" height="66.1" fill="none" stroke="#000" stroke-width="1.4"/>
<line x1="192.2" y1="347.8" x2="196.5" y2="347.8" stroke="#000" stroke-width="1.1" />
<line x1="192.2" y1="335.6" x2="196.5" y2="335.6" stroke="#000" stroke-width="1.1" />
<line x1="192.2" y1="323.4" x2="196.5" y2="323.4" stroke="#000" stroke-width="1.1" />
<line x1="192.2" y1="311.2" x2="196.5" y2="311.2" stroke="#000" stroke-width="1.1" />
<line x1="192.2" y1="299" x2="196.5" y2="299" stroke="#000" stroke-width="1.1" />
<line x1="192.2" y1="286.8" x2="196.5" y2="286.8" stroke="#000" stroke-width="1.1" />
<line x1="199.1" y1="349.3" x2="199.1" y2="354.1" stroke="#000" stroke-width="1.1" />
<text x="198.5" y="363.8" font-size="10.3" text-anchor="middle" font-weight="bold" fill="#000" textLength="7.51" lengthAdjust="spacingAndGlyphs">-4</text>
<line x1="215.8" y1="349.3" x2="215.8" y2="354.1" stroke="#000" stroke-width="1.1" />
<text x="215.2" y="363.8" font-size="10.3" text-anchor="middle" font-weight="bold" fill="#000" textLength="7.51" lengthAdjust="spacingAndGlyphs">-2</text>
<line x1="232.5" y1="349.3" x2="232.5" y2="354.1" stroke="#000" stroke-width="1.1" />
<text x="232.5" y="363.8" font-size="10.3" text-anchor="middle" font-weight="bold" fill="#000" textLength="4.7" lengthAdjust="spacingAndGlyphs">0</text>
<line x1="249.2" y1="349.3" x2="249.2" y2="354.1" stroke="#000" stroke-width="1.1" />
<text x="249.2" y="363.8" font-size="10.3" text-anchor="middle" font-weight="bold" fill="#000" textLength="4.7" lengthAdjust="spacingAndGlyphs">2</text>
<line x1="265.9" y1="349.3" x2="265.9" y2="354.1" stroke="#000" stroke-width="1.1" />
<text x="265.9" y="363.8" font-size="10.3" text-anchor="middle" font-weight="bold" fill="#000" textLength="4.7" lengthAdjust="spacingAndGlyphs">4</text>
<text x="199.1" y="294.5" font-size="11.3" text-anchor="start" font-weight="bold" fill="#000" >CBP</text>
<text x="154" y="373.5" font-size="10" text-anchor="middle" font-weight="bold" fill="#000" >Distance to Peak Center (bp)</text>
<text x="270" y="206.6" font-size="11" text-anchor="start" font-weight="bold" fill="#000" >D</text>
<rect x="277.9" y="211.8" width="96.3" height="158.0" fill="none" stroke="#000" stroke-width="1.5"/>
<text transform="translate(287.6 288.6) rotate(-90)" font-size="8.1" text-anchor="middle" font-weight="bold" fill="#000" >Percentage of H/M Binding Sites (%)</text>
<line x1="310.5" y1="222.5" x2="310.5" y2="365.7" stroke="#555" stroke-width="0.8" />
<line x1="305.5" y1="365.7" x2="310.5" y2="365.7" stroke="#000" stroke-width="0.9" />
<text x="302.6" y="368.7" font-size="8.6" text-anchor="end" font-weight="bold" fill="#000" >0</text>
<line x1="305.5" y1="341.83" x2="310.5" y2="341.83" stroke="#000" stroke-width="0.9" />
<text x="302.6" y="344.83" font-size="8.6" text-anchor="end" font-weight="bold" fill="#000" >5</text>
<line x1="305.5" y1="317.97" x2="310.5" y2="317.97" stroke="#000" stroke-width="0.9" />
<text x="302.6" y="320.97" font-size="8.6" text-anchor="end" font-weight="bold" fill="#000" >10</text>
<line x1="305.5" y1="294.1" x2="310.5" y2="294.1" stroke="#000" stroke-width="0.9" />
<text x="302.6" y="297.1" font-size="8.6" text-anchor="end" font-weight="bold" fill="#000" >15</text>
<line x1="305.5" y1="270.23" x2="310.5" y2="270.23" stroke="#000" stroke-width="0.9" />
<text x="302.6" y="273.23" font-size="8.6" text-anchor="end" font-weight="bold" fill="#000" >20</text>
<line x1="305.5" y1="246.37" x2="310.5" y2="246.37" stroke="#000" stroke-width="0.9" />
<text x="302.6" y="249.37" font-size="8.6" text-anchor="end" font-weight="bold" fill="#000" >25</text>
<line x1="305.5" y1="222.5" x2="310.5" y2="222.5" stroke="#000" stroke-width="0.9" />
<text x="302.6" y="225.5" font-size="8.6" text-anchor="end" font-weight="bold" fill="#000" >30</text>
<rect x="319.3" y="219.6" width="8.4" height="146.1" fill="#fa0a0a" stroke="#222" stroke-width="0.5"/>
<rect x="328.9" y="242.1" width="8.8" height="123.6" fill="#1a9cf5" stroke="#222" stroke-width="0.5"/>
<rect x="339" y="281.8" width="9" height="83.9" fill="#030303" stroke="#222" stroke-width="0.5"/>
<rect x="336.3" y="214.5" width="36.4" height="25" fill="#fff" stroke="#666" stroke-width="0.6"/>
<rect x="339.5" y="219.6" width="3" height="3" fill="#8a1a2a" stroke="#222" stroke-width="0.3"/>
<text x="345.2" y="222.7" font-size="4.6" text-anchor="start" font-weight="bold" fill="#333" textLength="13.71" lengthAdjust="spacingAndGlyphs">CEBPA</text>
<rect x="339.5" y="225.8" width="3" height="3" fill="#1a6a9a" stroke="#222" stroke-width="0.3"/>
<text x="345.2" y="228.9" font-size="4.6" text-anchor="start" font-weight="bold" fill="#333" textLength="8.89" lengthAdjust="spacingAndGlyphs">PU.1</text>
<rect x="339.5" y="231.9" width="3" height="3" fill="#000" stroke="#222" stroke-width="0.3"/>
<text x="345.2" y="235" font-size="4.6" text-anchor="start" font-weight="bold" fill="#333" textLength="27.16" lengthAdjust="spacingAndGlyphs">PU.1 + CEBPA</text>
<text x="374.7" y="206.5" font-size="11" text-anchor="start" font-weight="bold" fill="#000" >E</text>
<rect x="384.8" y="210.8" width="131.7" height="159.0" fill="none" stroke="#000" stroke-width="1.5"/>
<text transform="translate(392.8 284.1) rotate(-90)" font-size="8.2" text-anchor="middle" font-weight="bold" fill="#000" >Motif Enrichment (z-score)</text>
<line x1="437.5" y1="214" x2="437.5" y2="350" stroke="#ddd" stroke-width="0.4" stroke-dasharray="0.8 1.2"/>
<line x1="463.8" y1="214" x2="463.8" y2="350" stroke="#ddd" stroke-width="0.4" stroke-dasharray="0.8 1.2"/>
<line x1="490" y1="214" x2="490" y2="350" stroke="#ddd" stroke-width="0.4" stroke-dasharray="0.8 1.2"/>
<line x1="412" y1="239.3" x2="515" y2="239.3" stroke="#e4e4e4" stroke-width="0.4" stroke-dasharray="0.8 1.2"/>
<line x1="412" y1="257.6" x2="515" y2="257.6" stroke="#e4e4e4" stroke-width="0.4" stroke-dasharray="0.8 1.2"/>
<line x1="410.9" y1="220.3" x2="410.9" y2="274.3" stroke="#444" stroke-width="0.8" />
<line x1="410.9" y1="278.2" x2="410.9" y2="321" stroke="#444" stroke-width="0.8" />
<line x1="410.9" y1="325.8" x2="410.9" y2="346.8" stroke="#444" stroke-width="0.8" />
<line x1="408.4" y1="276.6" x2="412.6" y2="274.1" stroke="#222" stroke-width="0.7" />
<line x1="408.8" y1="279.1" x2="412.9" y2="277.2" stroke="#222" stroke-width="0.7" />
<line x1="408.3" y1="322.8" x2="412.6" y2="320.3" stroke="#222" stroke-width="0.7" />
<line x1="408.3" y1="325.5" x2="412.6" y2="323" stroke="#222" stroke-width="0.7" />
<line x1="407.3" y1="220.8" x2="410.9" y2="220.8" stroke="#000" stroke-width="0.7" />
<text x="404.3" y="223.3" font-size="6" text-anchor="end" font-weight="bold" fill="#222" textLength="8.21" lengthAdjust="spacingAndGlyphs">150</text>
<line x1="407.3" y1="239.4" x2="410.9" y2="239.4" stroke="#000" stroke-width="0.7" />
<text x="404.3" y="241.9" font-size="6" text-anchor="end" font-weight="bold" fill="#222" textLength="8.21" lengthAdjust="spacingAndGlyphs">100</text>
<line x1="407.3" y1="257.8" x2="410.9" y2="257.8" stroke="#000" stroke-width="0.7" />
<text x="404.3" y="260.3" font-size="6" text-anchor="end" font-weight="bold" fill="#222" textLength="5.47" lengthAdjust="spacingAndGlyphs">50</text>
<line x1="407.3" y1="282.89" x2="410.9" y2="282.89" stroke="#000" stroke-width="0.7" />
<text x="403.4" y="285.99" font-size="7" text-anchor="end" font-weight="bold" fill="#000" >3</text>
<line x1="407.3" y1="291.46" x2="410.9" y2="291.46" stroke="#000" stroke-width="0.7" />
<text x="403.4" y="294.56" font-size="7" text-anchor="end" font-weight="bold" fill="#000" >2</text>
<line x1="407.3" y1="300.03" x2="410.9" y2="300.03" stroke="#000" stroke-width="0.7" />
<text x="403.4" y="303.13" font-size="7" text-anchor="end" font-weight="bold" fill="#000" >1</text>
<line x1="407.3" y1="308.6" x2="410.9" y2="308.6" stroke="#000" stroke-width="0.7" />
<text x="403.4" y="311.7" font-size="7" text-anchor="end" font-weight="bold" fill="#000" >0</text>
<line x1="407.3" y1="317.17" x2="410.9" y2="317.17" stroke="#000" stroke-width="0.7" />
<text x="403.4" y="320.27" font-size="7" text-anchor="end" font-weight="bold" fill="#000" >-1</text>
<line x1="407.9" y1="329.5" x2="410.9" y2="329.5" stroke="#000" stroke-width="0.6" />
<text x="403.9" y="331.1" font-size="4.8" text-anchor="end" font-weight="bold" fill="#000" textLength="6.6" lengthAdjust="spacingAndGlyphs">-10</text>
<line x1="407.9" y1="334.9" x2="410.9" y2="334.9" stroke="#000" stroke-width="0.6" />
<text x="403.9" y="336.5" font-size="4.8" text-anchor="end" font-weight="bold" fill="#000" textLength="6.6" lengthAdjust="spacingAndGlyphs">-20</text>
<line x1="407.9" y1="340.3" x2="410.9" y2="340.3" stroke="#000" stroke-width="0.6" />
<text x="403.9" y="341.9" font-size="4.8" text-anchor="end" font-weight="bold" fill="#000" textLength="6.6" lengthAdjust="spacingAndGlyphs">-30</text>
<line x1="407.9" y1="345.7" x2="410.9" y2="345.7" stroke="#000" stroke-width="0.6" />
<text x="403.9" y="347.3" font-size="4.8" text-anchor="end" font-weight="bold" fill="#000" textLength="6.6" lengthAdjust="spacingAndGlyphs">-40</text>
<rect x="414.9" y="271.6" width="6.5" height="2" fill="#18f818" stroke="#222" stroke-width="0.45"/>
<rect x="414.9" y="278.6" width="6.5" height="30" fill="#18f818" stroke="#222" stroke-width="0.45"/>
<rect x="421.4" y="278.6" width="6.6" height="30" fill="#0a0af0" stroke="#222" stroke-width="0.45"/>
<rect x="428" y="308.6" width="6.9" height="12.8" fill="#f80a0a" stroke="#222" stroke-width="0.45"/>
<rect x="428" y="326.6" width="6.9" height="22.4" fill="#f80a0a" stroke="#222" stroke-width="0.45"/>
<rect x="440.6" y="271.6" width="6.5" height="2" fill="#18f818" stroke="#222" stroke-width="0.45"/>
<rect x="440.6" y="278.6" width="6.5" height="30" fill="#18f818" stroke="#222" stroke-width="0.45"/>
<rect x="447.1" y="278.6" width="6.6" height="30" fill="#0a0af0" stroke="#222" stroke-width="0.45"/>
<rect x="453.7" y="308.6" width="6.9" height="12.8" fill="#f80a0a" stroke="#222" stroke-width="0.45"/>
<rect x="466.3" y="268.6" width="7.1" height="5" fill="#18f818" stroke="#222" stroke-width="0.45"/>
<rect x="466.3" y="278.6" width="7.1" height="30" fill="#18f818" stroke="#222" stroke-width="0.45"/>
<rect x="473.4" y="268.6" width="6.6" height="5" fill="#0a0af0" stroke="#222" stroke-width="0.45"/>
<rect x="473.4" y="278.6" width="6.6" height="30" fill="#0a0af0" stroke="#222" stroke-width="0.45"/>
<rect x="480" y="215.6" width="6.6" height="58" fill="#f80a0a" stroke="#222" stroke-width="0.45"/>
<rect x="480" y="278.6" width="6.6" height="30" fill="#f80a0a" stroke="#222" stroke-width="0.45"/>
<rect x="492.9" y="283.7" width="6.5" height="24.9" fill="#18f818" stroke="#222" stroke-width="0.45"/>
<rect x="499.4" y="297" width="6.9" height="11.6" fill="#0a0af0" stroke="#222" stroke-width="0.45"/>
<rect x="506.3" y="308.6" width="6.6" height="12.6" fill="#f80a0a" stroke="#222" stroke-width="0.45"/>
<rect x="506.8" y="326.7" width="5.6" height="0.8" fill="#701010" />
<rect x="416" y="218.4" width="42" height="31.4" fill="#fff" stroke="#222" stroke-width="0.6"/>
<text x="436.9" y="225.2" font-size="5" text-anchor="middle" font-weight="bold" fill="#333" textLength="27.47" lengthAdjust="spacingAndGlyphs">Binding Sites</text>
<rect x="419.4" y="229.2" width="3.4" height="3.4" fill="#1e961e" stroke="#222" stroke-width="0.4"/>
<text x="427.2" y="232.7" font-size="5" text-anchor="start" font-weight="bold" fill="#222" textLength="7.88" lengthAdjust="spacingAndGlyphs">H/M</text>
<rect x="419.4" y="235.4" width="3.4" height="3.4" fill="#14148a" stroke="#222" stroke-width="0.4"/>
<text x="427.2" y="238.9" font-size="5" text-anchor="start" font-weight="bold" fill="#222" textLength="28.71" lengthAdjust="spacingAndGlyphs">H/M + C/EBPA</text>
<rect x="419.4" y="241.4" width="3.4" height="3.4" fill="#6a1818" stroke="#222" stroke-width="0.4"/>
<text x="427.2" y="244.9" font-size="5" text-anchor="start" font-weight="bold" fill="#222" textLength="15.93" lengthAdjust="spacingAndGlyphs">C/EBPA</text>
<text x="423.7" y="358" font-size="7.2" text-anchor="middle" font-weight="bold" fill="#000" >HOXA</text>
<text x="449.4" y="358" font-size="7.2" text-anchor="middle" font-weight="bold" fill="#000" >PBX/</text>
<text x="451.4" y="366.6" font-size="7.2" text-anchor="middle" font-weight="bold" fill="#000" >MEIS1</text>
<text x="477.2" y="358" font-size="7.2" text-anchor="middle" font-weight="bold" fill="#000" >C/EBPA</text>
<text x="503.3" y="358" font-size="7.2" text-anchor="middle" font-weight="bold" fill="#000" >STAT</text>
</svg>
</body></html>
